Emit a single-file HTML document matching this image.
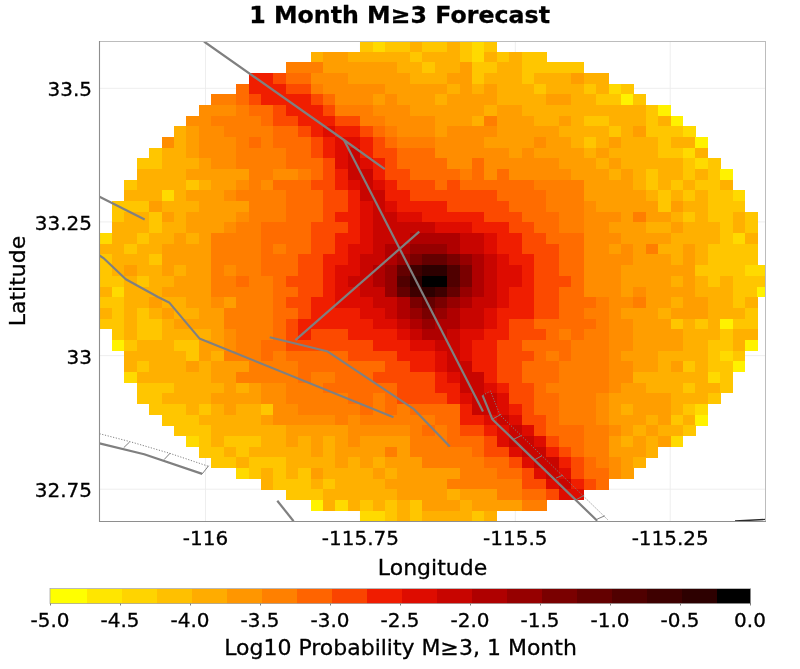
<!DOCTYPE html>
<html><head><meta charset="utf-8"><title>1 Month M≥3 Forecast</title>
<style>
html,body{margin:0;padding:0;background:#fff;}
body{width:800px;height:669px;overflow:hidden;}
svg{display:block;}
text{font-family:"DejaVu Sans","Liberation Sans",sans-serif;fill:#000;stroke:#000;stroke-width:0.3px;}
</style></head>
<body>
<svg width="800" height="669" viewBox="0 0 800 669">
<rect x="0" y="0" width="800" height="669" fill="#ffffff"/>
<text transform="translate(399.6,23) scale(1,0.99)" text-anchor="middle" font-size="23.7" font-weight="bold" stroke-width="0.1">1 Month M≥3 Forecast</text>
<g stroke="#ececec" stroke-width="0.9" fill="none">
<line x1="205.5" y1="41.5" x2="205.5" y2="521.5"/>
<line x1="360.4" y1="41.5" x2="360.4" y2="521.5"/>
<line x1="515.3" y1="41.5" x2="515.3" y2="521.5"/>
<line x1="670.2" y1="41.5" x2="670.2" y2="521.5"/>
<line x1="99.5" y1="88.3" x2="765.5" y2="88.3"/>
<line x1="99.5" y1="221.9" x2="765.5" y2="221.9"/>
<line x1="99.5" y1="355.6" x2="765.5" y2="355.6"/>
<line x1="99.5" y1="489.2" x2="765.5" y2="489.2"/>
</g>
<clipPath id="pc"><rect x="99.5" y="41.5" width="666.0" height="480.0"/></clipPath>
<g clip-path="url(#pc)">
<g shape-rendering="crispEdges">
<rect x="360.25" y="41.50" width="12.71" height="10.55" fill="#ffc600"/>
<rect x="372.66" y="41.50" width="12.71" height="10.55" fill="#ffda00"/>
<rect x="385.07" y="41.50" width="25.13" height="10.55" fill="#ffc600"/>
<rect x="409.90" y="41.50" width="12.71" height="10.55" fill="#ffb000"/>
<rect x="422.31" y="41.50" width="25.13" height="10.55" fill="#ffc600"/>
<rect x="447.14" y="41.50" width="12.71" height="10.55" fill="#ffb000"/>
<rect x="459.56" y="41.50" width="12.71" height="10.55" fill="#ffc600"/>
<rect x="471.97" y="41.50" width="12.71" height="10.55" fill="#ffda00"/>
<rect x="484.38" y="41.50" width="12.71" height="10.55" fill="#ffc600"/>
<rect x="310.59" y="51.75" width="12.71" height="10.97" fill="#ffb000"/>
<rect x="323.00" y="51.75" width="25.13" height="10.97" fill="#ff9e00"/>
<rect x="347.83" y="51.75" width="62.37" height="10.97" fill="#ffb000"/>
<rect x="409.90" y="51.75" width="12.71" height="10.97" fill="#ffc600"/>
<rect x="422.31" y="51.75" width="37.54" height="10.97" fill="#ffb000"/>
<rect x="459.56" y="51.75" width="12.71" height="10.97" fill="#ffc600"/>
<rect x="471.97" y="51.75" width="12.71" height="10.97" fill="#ffda00"/>
<rect x="484.38" y="51.75" width="12.71" height="10.97" fill="#ffb000"/>
<rect x="496.80" y="51.75" width="12.71" height="10.97" fill="#ffc600"/>
<rect x="509.21" y="51.75" width="12.71" height="10.97" fill="#ffb000"/>
<rect x="521.63" y="51.75" width="25.13" height="10.97" fill="#ffc600"/>
<rect x="285.76" y="62.42" width="37.54" height="10.97" fill="#ff7e00"/>
<rect x="323.00" y="62.42" width="74.78" height="10.97" fill="#ff9e00"/>
<rect x="397.49" y="62.42" width="25.13" height="10.97" fill="#ffb000"/>
<rect x="422.31" y="62.42" width="12.71" height="10.97" fill="#ffc600"/>
<rect x="434.73" y="62.42" width="25.13" height="10.97" fill="#ffb000"/>
<rect x="459.56" y="62.42" width="12.71" height="10.97" fill="#ff9e00"/>
<rect x="471.97" y="62.42" width="25.13" height="10.97" fill="#ffc600"/>
<rect x="496.80" y="62.42" width="25.13" height="10.97" fill="#ffb000"/>
<rect x="521.63" y="62.42" width="62.37" height="10.97" fill="#ffc600"/>
<rect x="248.52" y="73.09" width="25.13" height="10.97" fill="#f01e00"/>
<rect x="273.35" y="73.09" width="12.71" height="10.97" fill="#fc4a00"/>
<rect x="285.76" y="73.09" width="25.13" height="10.97" fill="#ff6c00"/>
<rect x="310.59" y="73.09" width="37.54" height="10.97" fill="#ff8d00"/>
<rect x="347.83" y="73.09" width="62.37" height="10.97" fill="#ff9e00"/>
<rect x="409.90" y="73.09" width="37.54" height="10.97" fill="#ffb000"/>
<rect x="447.14" y="73.09" width="25.13" height="10.97" fill="#ff9e00"/>
<rect x="471.97" y="73.09" width="12.71" height="10.97" fill="#ffc600"/>
<rect x="484.38" y="73.09" width="37.54" height="10.97" fill="#ffb000"/>
<rect x="521.63" y="73.09" width="12.71" height="10.97" fill="#ffc600"/>
<rect x="534.04" y="73.09" width="37.54" height="10.97" fill="#ffb000"/>
<rect x="571.28" y="73.09" width="12.71" height="10.97" fill="#ff9e00"/>
<rect x="583.70" y="73.09" width="25.13" height="10.97" fill="#ffb000"/>
<rect x="236.10" y="83.77" width="12.71" height="10.97" fill="#ff6c00"/>
<rect x="248.52" y="83.77" width="37.54" height="10.97" fill="#f01e00"/>
<rect x="285.76" y="83.77" width="25.13" height="10.97" fill="#fc4a00"/>
<rect x="310.59" y="83.77" width="12.71" height="10.97" fill="#ff7e00"/>
<rect x="323.00" y="83.77" width="62.37" height="10.97" fill="#ff8d00"/>
<rect x="385.07" y="83.77" width="62.37" height="10.97" fill="#ff9e00"/>
<rect x="447.14" y="83.77" width="12.71" height="10.97" fill="#ffb000"/>
<rect x="459.56" y="83.77" width="12.71" height="10.97" fill="#ff9e00"/>
<rect x="471.97" y="83.77" width="12.71" height="10.97" fill="#ffb000"/>
<rect x="484.38" y="83.77" width="12.71" height="10.97" fill="#ff9e00"/>
<rect x="496.80" y="83.77" width="37.54" height="10.97" fill="#ffb000"/>
<rect x="534.04" y="83.77" width="12.71" height="10.97" fill="#ffc600"/>
<rect x="546.45" y="83.77" width="37.54" height="10.97" fill="#ffb000"/>
<rect x="583.70" y="83.77" width="12.71" height="10.97" fill="#ffc600"/>
<rect x="596.11" y="83.77" width="12.71" height="10.97" fill="#ffb000"/>
<rect x="608.52" y="83.77" width="12.71" height="10.97" fill="#ffda00"/>
<rect x="620.94" y="83.77" width="12.71" height="10.97" fill="#ffc600"/>
<rect x="211.28" y="94.43" width="25.13" height="10.97" fill="#ff7e00"/>
<rect x="236.10" y="94.43" width="12.71" height="10.97" fill="#ff6c00"/>
<rect x="248.52" y="94.43" width="12.71" height="10.97" fill="#fc4a00"/>
<rect x="260.93" y="94.43" width="49.96" height="10.97" fill="#f01e00"/>
<rect x="310.59" y="94.43" width="12.71" height="10.97" fill="#fc4a00"/>
<rect x="323.00" y="94.43" width="12.71" height="10.97" fill="#ff6c00"/>
<rect x="335.42" y="94.43" width="37.54" height="10.97" fill="#ff8d00"/>
<rect x="372.66" y="94.43" width="12.71" height="10.97" fill="#ff9e00"/>
<rect x="385.07" y="94.43" width="12.71" height="10.97" fill="#ff8d00"/>
<rect x="397.49" y="94.43" width="37.54" height="10.97" fill="#ff9e00"/>
<rect x="434.73" y="94.43" width="12.71" height="10.97" fill="#ffb000"/>
<rect x="447.14" y="94.43" width="49.96" height="10.97" fill="#ff9e00"/>
<rect x="496.80" y="94.43" width="49.96" height="10.97" fill="#ffb000"/>
<rect x="546.45" y="94.43" width="25.13" height="10.97" fill="#ff9e00"/>
<rect x="571.28" y="94.43" width="25.13" height="10.97" fill="#ffb000"/>
<rect x="596.11" y="94.43" width="25.13" height="10.97" fill="#ffc600"/>
<rect x="620.94" y="94.43" width="12.71" height="10.97" fill="#fff200"/>
<rect x="633.35" y="94.43" width="12.71" height="10.97" fill="#ffc600"/>
<rect x="198.86" y="105.10" width="37.54" height="10.97" fill="#ff8d00"/>
<rect x="236.10" y="105.10" width="12.71" height="10.97" fill="#ff7e00"/>
<rect x="248.52" y="105.10" width="25.13" height="10.97" fill="#ff6c00"/>
<rect x="273.35" y="105.10" width="12.71" height="10.97" fill="#fc4a00"/>
<rect x="285.76" y="105.10" width="37.54" height="10.97" fill="#f01e00"/>
<rect x="323.00" y="105.10" width="12.71" height="10.97" fill="#fc4a00"/>
<rect x="335.42" y="105.10" width="37.54" height="10.97" fill="#ff7e00"/>
<rect x="372.66" y="105.10" width="37.54" height="10.97" fill="#ff8d00"/>
<rect x="409.90" y="105.10" width="74.78" height="10.97" fill="#ff9e00"/>
<rect x="484.38" y="105.10" width="12.71" height="10.97" fill="#ffb000"/>
<rect x="496.80" y="105.10" width="25.13" height="10.97" fill="#ff9e00"/>
<rect x="521.63" y="105.10" width="124.44" height="10.97" fill="#ffb000"/>
<rect x="645.77" y="105.10" width="12.71" height="10.97" fill="#ffc600"/>
<rect x="658.18" y="105.10" width="12.71" height="10.97" fill="#fff200"/>
<rect x="186.45" y="115.77" width="25.13" height="10.97" fill="#ff8d00"/>
<rect x="211.28" y="115.77" width="49.96" height="10.97" fill="#ff7e00"/>
<rect x="260.93" y="115.77" width="12.71" height="10.97" fill="#ff6c00"/>
<rect x="273.35" y="115.77" width="25.13" height="10.97" fill="#fc4a00"/>
<rect x="298.18" y="115.77" width="37.54" height="10.97" fill="#f01e00"/>
<rect x="335.42" y="115.77" width="25.13" height="10.97" fill="#fc4a00"/>
<rect x="360.25" y="115.77" width="25.13" height="10.97" fill="#ff7e00"/>
<rect x="385.07" y="115.77" width="49.96" height="10.97" fill="#ff8d00"/>
<rect x="434.73" y="115.77" width="37.54" height="10.97" fill="#ff9e00"/>
<rect x="471.97" y="115.77" width="12.71" height="10.97" fill="#ffb000"/>
<rect x="484.38" y="115.77" width="12.71" height="10.97" fill="#ff7e00"/>
<rect x="496.80" y="115.77" width="37.54" height="10.97" fill="#ff9e00"/>
<rect x="534.04" y="115.77" width="25.13" height="10.97" fill="#ffb000"/>
<rect x="558.87" y="115.77" width="12.71" height="10.97" fill="#ff9e00"/>
<rect x="571.28" y="115.77" width="12.71" height="10.97" fill="#ffb000"/>
<rect x="583.70" y="115.77" width="25.13" height="10.97" fill="#ffc600"/>
<rect x="608.52" y="115.77" width="37.54" height="10.97" fill="#ffb000"/>
<rect x="645.77" y="115.77" width="12.71" height="10.97" fill="#ffc600"/>
<rect x="658.18" y="115.77" width="12.71" height="10.97" fill="#ffb000"/>
<rect x="670.60" y="115.77" width="12.71" height="10.97" fill="#fff200"/>
<rect x="174.03" y="126.44" width="12.71" height="10.97" fill="#ffb000"/>
<rect x="186.45" y="126.44" width="12.71" height="10.97" fill="#ff9e00"/>
<rect x="198.86" y="126.44" width="25.13" height="10.97" fill="#ff8d00"/>
<rect x="223.69" y="126.44" width="49.96" height="10.97" fill="#ff7e00"/>
<rect x="273.35" y="126.44" width="25.13" height="10.97" fill="#ff6c00"/>
<rect x="298.18" y="126.44" width="12.71" height="10.97" fill="#fc4a00"/>
<rect x="310.59" y="126.44" width="12.71" height="10.97" fill="#f01e00"/>
<rect x="323.00" y="126.44" width="12.71" height="10.97" fill="#de0c00"/>
<rect x="335.42" y="126.44" width="25.13" height="10.97" fill="#f01e00"/>
<rect x="360.25" y="126.44" width="12.71" height="10.97" fill="#fc4a00"/>
<rect x="372.66" y="126.44" width="12.71" height="10.97" fill="#ff6c00"/>
<rect x="385.07" y="126.44" width="12.71" height="10.97" fill="#ff7e00"/>
<rect x="397.49" y="126.44" width="37.54" height="10.97" fill="#ff8d00"/>
<rect x="434.73" y="126.44" width="12.71" height="10.97" fill="#ff9e00"/>
<rect x="447.14" y="126.44" width="49.96" height="10.97" fill="#ff8d00"/>
<rect x="496.80" y="126.44" width="62.37" height="10.97" fill="#ff9e00"/>
<rect x="558.87" y="126.44" width="49.96" height="10.97" fill="#ffb000"/>
<rect x="608.52" y="126.44" width="12.71" height="10.97" fill="#ffc600"/>
<rect x="620.94" y="126.44" width="12.71" height="10.97" fill="#ffb000"/>
<rect x="633.35" y="126.44" width="12.71" height="10.97" fill="#ff9e00"/>
<rect x="645.77" y="126.44" width="37.54" height="10.97" fill="#ffc600"/>
<rect x="683.01" y="126.44" width="12.71" height="10.97" fill="#ffda00"/>
<rect x="161.62" y="137.12" width="12.71" height="10.97" fill="#ff8d00"/>
<rect x="174.03" y="137.12" width="12.71" height="10.97" fill="#ffb000"/>
<rect x="186.45" y="137.12" width="12.71" height="10.97" fill="#ff9e00"/>
<rect x="198.86" y="137.12" width="37.54" height="10.97" fill="#ff8d00"/>
<rect x="236.10" y="137.12" width="12.71" height="10.97" fill="#ff7e00"/>
<rect x="248.52" y="137.12" width="12.71" height="10.97" fill="#ff6c00"/>
<rect x="260.93" y="137.12" width="12.71" height="10.97" fill="#ff7e00"/>
<rect x="273.35" y="137.12" width="37.54" height="10.97" fill="#ff6c00"/>
<rect x="310.59" y="137.12" width="12.71" height="10.97" fill="#fc4a00"/>
<rect x="323.00" y="137.12" width="12.71" height="10.97" fill="#f01e00"/>
<rect x="335.42" y="137.12" width="25.13" height="10.97" fill="#de0c00"/>
<rect x="360.25" y="137.12" width="12.71" height="10.97" fill="#f01e00"/>
<rect x="372.66" y="137.12" width="12.71" height="10.97" fill="#fc4a00"/>
<rect x="385.07" y="137.12" width="12.71" height="10.97" fill="#ff6c00"/>
<rect x="397.49" y="137.12" width="37.54" height="10.97" fill="#ff7e00"/>
<rect x="434.73" y="137.12" width="49.96" height="10.97" fill="#ff8d00"/>
<rect x="484.38" y="137.12" width="49.96" height="10.97" fill="#ff9e00"/>
<rect x="534.04" y="137.12" width="12.71" height="10.97" fill="#ff8d00"/>
<rect x="546.45" y="137.12" width="25.13" height="10.97" fill="#ff9e00"/>
<rect x="571.28" y="137.12" width="12.71" height="10.97" fill="#ffb000"/>
<rect x="583.70" y="137.12" width="12.71" height="10.97" fill="#ffc600"/>
<rect x="596.11" y="137.12" width="12.71" height="10.97" fill="#ffb000"/>
<rect x="608.52" y="137.12" width="12.71" height="10.97" fill="#ff9e00"/>
<rect x="620.94" y="137.12" width="37.54" height="10.97" fill="#ffb000"/>
<rect x="658.18" y="137.12" width="12.71" height="10.97" fill="#ffc600"/>
<rect x="670.60" y="137.12" width="25.13" height="10.97" fill="#ffb000"/>
<rect x="695.42" y="137.12" width="12.71" height="10.97" fill="#fff200"/>
<rect x="149.21" y="147.78" width="12.71" height="10.97" fill="#ffc600"/>
<rect x="161.62" y="147.78" width="25.13" height="10.97" fill="#ffb000"/>
<rect x="186.45" y="147.78" width="12.71" height="10.97" fill="#ff9e00"/>
<rect x="198.86" y="147.78" width="37.54" height="10.97" fill="#ff8d00"/>
<rect x="236.10" y="147.78" width="49.96" height="10.97" fill="#ff7e00"/>
<rect x="285.76" y="147.78" width="25.13" height="10.97" fill="#ff6c00"/>
<rect x="310.59" y="147.78" width="12.71" height="10.97" fill="#fc4a00"/>
<rect x="323.00" y="147.78" width="12.71" height="10.97" fill="#f01e00"/>
<rect x="335.42" y="147.78" width="12.71" height="10.97" fill="#de0c00"/>
<rect x="347.83" y="147.78" width="12.71" height="10.97" fill="#c80500"/>
<rect x="360.25" y="147.78" width="12.71" height="10.97" fill="#f01e00"/>
<rect x="372.66" y="147.78" width="25.13" height="10.97" fill="#fc4a00"/>
<rect x="397.49" y="147.78" width="37.54" height="10.97" fill="#ff6c00"/>
<rect x="434.73" y="147.78" width="74.78" height="10.97" fill="#ff8d00"/>
<rect x="509.21" y="147.78" width="12.71" height="10.97" fill="#ff9e00"/>
<rect x="521.63" y="147.78" width="12.71" height="10.97" fill="#ff8d00"/>
<rect x="534.04" y="147.78" width="49.96" height="10.97" fill="#ff9e00"/>
<rect x="583.70" y="147.78" width="12.71" height="10.97" fill="#ffb000"/>
<rect x="596.11" y="147.78" width="12.71" height="10.97" fill="#ff9e00"/>
<rect x="608.52" y="147.78" width="49.96" height="10.97" fill="#ffb000"/>
<rect x="658.18" y="147.78" width="25.13" height="10.97" fill="#ffc600"/>
<rect x="683.01" y="147.78" width="12.71" height="10.97" fill="#ffda00"/>
<rect x="695.42" y="147.78" width="12.71" height="10.97" fill="#ffb000"/>
<rect x="136.79" y="158.45" width="25.13" height="10.97" fill="#ffc600"/>
<rect x="161.62" y="158.45" width="37.54" height="10.97" fill="#ffb000"/>
<rect x="198.86" y="158.45" width="12.71" height="10.97" fill="#ff9e00"/>
<rect x="211.28" y="158.45" width="25.13" height="10.97" fill="#ff8d00"/>
<rect x="236.10" y="158.45" width="49.96" height="10.97" fill="#ff7e00"/>
<rect x="285.76" y="158.45" width="37.54" height="10.97" fill="#ff6c00"/>
<rect x="323.00" y="158.45" width="12.71" height="10.97" fill="#fc4a00"/>
<rect x="335.42" y="158.45" width="12.71" height="10.97" fill="#de0c00"/>
<rect x="347.83" y="158.45" width="12.71" height="10.97" fill="#c80500"/>
<rect x="360.25" y="158.45" width="12.71" height="10.97" fill="#de0c00"/>
<rect x="372.66" y="158.45" width="12.71" height="10.97" fill="#f01e00"/>
<rect x="385.07" y="158.45" width="12.71" height="10.97" fill="#fc4a00"/>
<rect x="397.49" y="158.45" width="49.96" height="10.97" fill="#ff6c00"/>
<rect x="447.14" y="158.45" width="25.13" height="10.97" fill="#ff8d00"/>
<rect x="471.97" y="158.45" width="12.71" height="10.97" fill="#ff6c00"/>
<rect x="484.38" y="158.45" width="74.78" height="10.97" fill="#ff8d00"/>
<rect x="558.87" y="158.45" width="37.54" height="10.97" fill="#ff9e00"/>
<rect x="596.11" y="158.45" width="12.71" height="10.97" fill="#ffb000"/>
<rect x="608.52" y="158.45" width="12.71" height="10.97" fill="#ff9e00"/>
<rect x="620.94" y="158.45" width="62.37" height="10.97" fill="#ffb000"/>
<rect x="683.01" y="158.45" width="12.71" height="10.97" fill="#ffc600"/>
<rect x="695.42" y="158.45" width="12.71" height="10.97" fill="#ffda00"/>
<rect x="707.84" y="158.45" width="12.71" height="10.97" fill="#ffc600"/>
<rect x="136.79" y="169.12" width="49.96" height="10.97" fill="#ffb000"/>
<rect x="186.45" y="169.12" width="62.37" height="10.97" fill="#ff9e00"/>
<rect x="248.52" y="169.12" width="25.13" height="10.97" fill="#ff7e00"/>
<rect x="273.35" y="169.12" width="25.13" height="10.97" fill="#ff8d00"/>
<rect x="298.18" y="169.12" width="12.71" height="10.97" fill="#ff7e00"/>
<rect x="310.59" y="169.12" width="12.71" height="10.97" fill="#ff6c00"/>
<rect x="323.00" y="169.12" width="12.71" height="10.97" fill="#fc4a00"/>
<rect x="335.42" y="169.12" width="12.71" height="10.97" fill="#f01e00"/>
<rect x="347.83" y="169.12" width="25.13" height="10.97" fill="#c80500"/>
<rect x="372.66" y="169.12" width="12.71" height="10.97" fill="#f01e00"/>
<rect x="385.07" y="169.12" width="25.13" height="10.97" fill="#fc4a00"/>
<rect x="409.90" y="169.12" width="49.96" height="10.97" fill="#ff6c00"/>
<rect x="459.56" y="169.12" width="12.71" height="10.97" fill="#ff7e00"/>
<rect x="471.97" y="169.12" width="12.71" height="10.97" fill="#ff6c00"/>
<rect x="484.38" y="169.12" width="12.71" height="10.97" fill="#ff8d00"/>
<rect x="496.80" y="169.12" width="12.71" height="10.97" fill="#ff6c00"/>
<rect x="509.21" y="169.12" width="62.37" height="10.97" fill="#ff8d00"/>
<rect x="571.28" y="169.12" width="37.54" height="10.97" fill="#ff9e00"/>
<rect x="608.52" y="169.12" width="12.71" height="10.97" fill="#ffb000"/>
<rect x="620.94" y="169.12" width="12.71" height="10.97" fill="#ff9e00"/>
<rect x="633.35" y="169.12" width="12.71" height="10.97" fill="#ffb000"/>
<rect x="645.77" y="169.12" width="12.71" height="10.97" fill="#ffc600"/>
<rect x="658.18" y="169.12" width="25.13" height="10.97" fill="#ffb000"/>
<rect x="683.01" y="169.12" width="12.71" height="10.97" fill="#ffc600"/>
<rect x="695.42" y="169.12" width="12.71" height="10.97" fill="#ffb000"/>
<rect x="707.84" y="169.12" width="12.71" height="10.97" fill="#ffc600"/>
<rect x="720.25" y="169.12" width="12.71" height="10.97" fill="#fff200"/>
<rect x="124.38" y="179.79" width="12.71" height="10.97" fill="#ffc600"/>
<rect x="136.79" y="179.79" width="49.96" height="10.97" fill="#ffb000"/>
<rect x="186.45" y="179.79" width="12.71" height="10.97" fill="#ffc600"/>
<rect x="198.86" y="179.79" width="12.71" height="10.97" fill="#ffb000"/>
<rect x="211.28" y="179.79" width="25.13" height="10.97" fill="#ff9e00"/>
<rect x="236.10" y="179.79" width="12.71" height="10.97" fill="#ff8d00"/>
<rect x="248.52" y="179.79" width="12.71" height="10.97" fill="#ff7e00"/>
<rect x="260.93" y="179.79" width="12.71" height="10.97" fill="#ff8d00"/>
<rect x="273.35" y="179.79" width="37.54" height="10.97" fill="#ff6c00"/>
<rect x="310.59" y="179.79" width="25.13" height="10.97" fill="#fc4a00"/>
<rect x="335.42" y="179.79" width="12.71" height="10.97" fill="#f01e00"/>
<rect x="347.83" y="179.79" width="12.71" height="10.97" fill="#de0c00"/>
<rect x="360.25" y="179.79" width="12.71" height="10.97" fill="#c80500"/>
<rect x="372.66" y="179.79" width="12.71" height="10.97" fill="#de0c00"/>
<rect x="385.07" y="179.79" width="12.71" height="10.97" fill="#f01e00"/>
<rect x="397.49" y="179.79" width="37.54" height="10.97" fill="#fc4a00"/>
<rect x="434.73" y="179.79" width="12.71" height="10.97" fill="#ff6c00"/>
<rect x="447.14" y="179.79" width="12.71" height="10.97" fill="#fc4a00"/>
<rect x="459.56" y="179.79" width="74.78" height="10.97" fill="#ff6c00"/>
<rect x="534.04" y="179.79" width="49.96" height="10.97" fill="#ff7e00"/>
<rect x="583.70" y="179.79" width="49.96" height="10.97" fill="#ff9e00"/>
<rect x="633.35" y="179.79" width="12.71" height="10.97" fill="#ffb000"/>
<rect x="645.77" y="179.79" width="12.71" height="10.97" fill="#ffc600"/>
<rect x="658.18" y="179.79" width="12.71" height="10.97" fill="#ffb000"/>
<rect x="670.60" y="179.79" width="12.71" height="10.97" fill="#ffc600"/>
<rect x="683.01" y="179.79" width="12.71" height="10.97" fill="#ffb000"/>
<rect x="695.42" y="179.79" width="25.13" height="10.97" fill="#ffc600"/>
<rect x="720.25" y="179.79" width="12.71" height="10.97" fill="#ffb000"/>
<rect x="124.38" y="190.46" width="37.54" height="10.97" fill="#ffb000"/>
<rect x="161.62" y="190.46" width="12.71" height="10.97" fill="#ffda00"/>
<rect x="174.03" y="190.46" width="12.71" height="10.97" fill="#ffb000"/>
<rect x="186.45" y="190.46" width="37.54" height="10.97" fill="#ff9e00"/>
<rect x="223.69" y="190.46" width="12.71" height="10.97" fill="#ff8d00"/>
<rect x="236.10" y="190.46" width="49.96" height="10.97" fill="#ff7e00"/>
<rect x="285.76" y="190.46" width="37.54" height="10.97" fill="#ff6c00"/>
<rect x="323.00" y="190.46" width="25.13" height="10.97" fill="#fc4a00"/>
<rect x="347.83" y="190.46" width="12.71" height="10.97" fill="#f01e00"/>
<rect x="360.25" y="190.46" width="25.13" height="10.97" fill="#c80500"/>
<rect x="385.07" y="190.46" width="25.13" height="10.97" fill="#f01e00"/>
<rect x="409.90" y="190.46" width="87.20" height="10.97" fill="#fc4a00"/>
<rect x="496.80" y="190.46" width="49.96" height="10.97" fill="#ff6c00"/>
<rect x="546.45" y="190.46" width="37.54" height="10.97" fill="#ff7e00"/>
<rect x="583.70" y="190.46" width="62.37" height="10.97" fill="#ff9e00"/>
<rect x="645.77" y="190.46" width="12.71" height="10.97" fill="#ffb000"/>
<rect x="658.18" y="190.46" width="12.71" height="10.97" fill="#ffc600"/>
<rect x="670.60" y="190.46" width="12.71" height="10.97" fill="#ffb000"/>
<rect x="683.01" y="190.46" width="12.71" height="10.97" fill="#ffc600"/>
<rect x="695.42" y="190.46" width="12.71" height="10.97" fill="#ffb000"/>
<rect x="707.84" y="190.46" width="25.13" height="10.97" fill="#ffc600"/>
<rect x="732.66" y="190.46" width="12.71" height="10.97" fill="#ffda00"/>
<rect x="111.96" y="201.13" width="37.54" height="10.97" fill="#ffc600"/>
<rect x="149.21" y="201.13" width="12.71" height="10.97" fill="#ff9e00"/>
<rect x="161.62" y="201.13" width="37.54" height="10.97" fill="#ffb000"/>
<rect x="198.86" y="201.13" width="49.96" height="10.97" fill="#ff9e00"/>
<rect x="248.52" y="201.13" width="37.54" height="10.97" fill="#ff7e00"/>
<rect x="285.76" y="201.13" width="37.54" height="10.97" fill="#ff6c00"/>
<rect x="323.00" y="201.13" width="25.13" height="10.97" fill="#fc4a00"/>
<rect x="347.83" y="201.13" width="12.71" height="10.97" fill="#f01e00"/>
<rect x="360.25" y="201.13" width="12.71" height="10.97" fill="#de0c00"/>
<rect x="372.66" y="201.13" width="12.71" height="10.97" fill="#c80500"/>
<rect x="385.07" y="201.13" width="12.71" height="10.97" fill="#de0c00"/>
<rect x="397.49" y="201.13" width="49.96" height="10.97" fill="#f01e00"/>
<rect x="447.14" y="201.13" width="62.37" height="10.97" fill="#fc4a00"/>
<rect x="509.21" y="201.13" width="37.54" height="10.97" fill="#ff6c00"/>
<rect x="546.45" y="201.13" width="37.54" height="10.97" fill="#ff7e00"/>
<rect x="583.70" y="201.13" width="12.71" height="10.97" fill="#ff8d00"/>
<rect x="596.11" y="201.13" width="62.37" height="10.97" fill="#ff9e00"/>
<rect x="658.18" y="201.13" width="12.71" height="10.97" fill="#ffc600"/>
<rect x="670.60" y="201.13" width="12.71" height="10.97" fill="#ff9e00"/>
<rect x="683.01" y="201.13" width="25.13" height="10.97" fill="#ffb000"/>
<rect x="707.84" y="201.13" width="37.54" height="10.97" fill="#ffc600"/>
<rect x="111.96" y="211.81" width="12.71" height="10.97" fill="#ffc600"/>
<rect x="124.38" y="211.81" width="25.13" height="10.97" fill="#ffb000"/>
<rect x="149.21" y="211.81" width="12.71" height="10.97" fill="#ffc600"/>
<rect x="161.62" y="211.81" width="12.71" height="10.97" fill="#ff9e00"/>
<rect x="174.03" y="211.81" width="12.71" height="10.97" fill="#ffb000"/>
<rect x="186.45" y="211.81" width="49.96" height="10.97" fill="#ff9e00"/>
<rect x="236.10" y="211.81" width="12.71" height="10.97" fill="#ff8d00"/>
<rect x="248.52" y="211.81" width="37.54" height="10.97" fill="#ff7e00"/>
<rect x="285.76" y="211.81" width="37.54" height="10.97" fill="#ff6c00"/>
<rect x="323.00" y="211.81" width="12.71" height="10.97" fill="#fc4a00"/>
<rect x="335.42" y="211.81" width="25.13" height="10.97" fill="#f01e00"/>
<rect x="360.25" y="211.81" width="12.71" height="10.97" fill="#de0c00"/>
<rect x="372.66" y="211.81" width="25.13" height="10.97" fill="#c80500"/>
<rect x="397.49" y="211.81" width="25.13" height="10.97" fill="#de0c00"/>
<rect x="422.31" y="211.81" width="62.37" height="10.97" fill="#f01e00"/>
<rect x="484.38" y="211.81" width="37.54" height="10.97" fill="#fc4a00"/>
<rect x="521.63" y="211.81" width="37.54" height="10.97" fill="#ff6c00"/>
<rect x="558.87" y="211.81" width="25.13" height="10.97" fill="#ff7e00"/>
<rect x="583.70" y="211.81" width="37.54" height="10.97" fill="#ff8d00"/>
<rect x="620.94" y="211.81" width="12.71" height="10.97" fill="#ff9e00"/>
<rect x="633.35" y="211.81" width="12.71" height="10.97" fill="#ff7e00"/>
<rect x="645.77" y="211.81" width="25.13" height="10.97" fill="#ff9e00"/>
<rect x="670.60" y="211.81" width="12.71" height="10.97" fill="#ffb000"/>
<rect x="683.01" y="211.81" width="12.71" height="10.97" fill="#ffc600"/>
<rect x="695.42" y="211.81" width="12.71" height="10.97" fill="#ffb000"/>
<rect x="707.84" y="211.81" width="25.13" height="10.97" fill="#ffc600"/>
<rect x="732.66" y="211.81" width="12.71" height="10.97" fill="#ffb000"/>
<rect x="745.08" y="211.81" width="12.71" height="10.97" fill="#ffc600"/>
<rect x="111.96" y="222.47" width="37.54" height="10.97" fill="#ffb000"/>
<rect x="149.21" y="222.47" width="12.71" height="10.97" fill="#ffc600"/>
<rect x="161.62" y="222.47" width="25.13" height="10.97" fill="#ffb000"/>
<rect x="186.45" y="222.47" width="37.54" height="10.97" fill="#ff9e00"/>
<rect x="223.69" y="222.47" width="12.71" height="10.97" fill="#ff8d00"/>
<rect x="236.10" y="222.47" width="25.13" height="10.97" fill="#ff7e00"/>
<rect x="260.93" y="222.47" width="49.96" height="10.97" fill="#ff6c00"/>
<rect x="310.59" y="222.47" width="37.54" height="10.97" fill="#fc4a00"/>
<rect x="347.83" y="222.47" width="12.71" height="10.97" fill="#f01e00"/>
<rect x="360.25" y="222.47" width="12.71" height="10.97" fill="#de0c00"/>
<rect x="372.66" y="222.47" width="62.37" height="10.97" fill="#c80500"/>
<rect x="434.73" y="222.47" width="37.54" height="10.97" fill="#de0c00"/>
<rect x="471.97" y="222.47" width="37.54" height="10.97" fill="#f01e00"/>
<rect x="509.21" y="222.47" width="25.13" height="10.97" fill="#fc4a00"/>
<rect x="534.04" y="222.47" width="25.13" height="10.97" fill="#ff6c00"/>
<rect x="558.87" y="222.47" width="25.13" height="10.97" fill="#ff7e00"/>
<rect x="583.70" y="222.47" width="25.13" height="10.97" fill="#ff8d00"/>
<rect x="608.52" y="222.47" width="37.54" height="10.97" fill="#ff9e00"/>
<rect x="645.77" y="222.47" width="25.13" height="10.97" fill="#ffb000"/>
<rect x="670.60" y="222.47" width="12.71" height="10.97" fill="#ff9e00"/>
<rect x="683.01" y="222.47" width="37.54" height="10.97" fill="#ffb000"/>
<rect x="720.25" y="222.47" width="12.71" height="10.97" fill="#ffc600"/>
<rect x="732.66" y="222.47" width="12.71" height="10.97" fill="#ffb000"/>
<rect x="745.08" y="222.47" width="12.71" height="10.97" fill="#ffc600"/>
<rect x="99.55" y="233.14" width="12.71" height="10.97" fill="#ffda00"/>
<rect x="111.96" y="233.14" width="25.13" height="10.97" fill="#ffb000"/>
<rect x="136.79" y="233.14" width="12.71" height="10.97" fill="#ffc600"/>
<rect x="149.21" y="233.14" width="25.13" height="10.97" fill="#ffb000"/>
<rect x="174.03" y="233.14" width="12.71" height="10.97" fill="#ff9e00"/>
<rect x="186.45" y="233.14" width="12.71" height="10.97" fill="#ffb000"/>
<rect x="198.86" y="233.14" width="12.71" height="10.97" fill="#ff9e00"/>
<rect x="211.28" y="233.14" width="49.96" height="10.97" fill="#ff7e00"/>
<rect x="260.93" y="233.14" width="49.96" height="10.97" fill="#ff6c00"/>
<rect x="310.59" y="233.14" width="25.13" height="10.97" fill="#fc4a00"/>
<rect x="335.42" y="233.14" width="25.13" height="10.97" fill="#f01e00"/>
<rect x="360.25" y="233.14" width="12.71" height="10.97" fill="#de0c00"/>
<rect x="372.66" y="233.14" width="37.54" height="10.97" fill="#c80500"/>
<rect x="409.90" y="233.14" width="49.96" height="10.97" fill="#af0000"/>
<rect x="459.56" y="233.14" width="25.13" height="10.97" fill="#c80500"/>
<rect x="484.38" y="233.14" width="12.71" height="10.97" fill="#de0c00"/>
<rect x="496.80" y="233.14" width="25.13" height="10.97" fill="#f01e00"/>
<rect x="521.63" y="233.14" width="25.13" height="10.97" fill="#fc4a00"/>
<rect x="546.45" y="233.14" width="37.54" height="10.97" fill="#ff6c00"/>
<rect x="583.70" y="233.14" width="37.54" height="10.97" fill="#ff8d00"/>
<rect x="620.94" y="233.14" width="49.96" height="10.97" fill="#ff9e00"/>
<rect x="670.60" y="233.14" width="49.96" height="10.97" fill="#ffb000"/>
<rect x="720.25" y="233.14" width="12.71" height="10.97" fill="#ffc600"/>
<rect x="732.66" y="233.14" width="12.71" height="10.97" fill="#ffda00"/>
<rect x="745.08" y="233.14" width="12.71" height="10.97" fill="#ffb000"/>
<rect x="99.55" y="243.81" width="25.13" height="10.97" fill="#ffb000"/>
<rect x="124.38" y="243.81" width="12.71" height="10.97" fill="#ffc600"/>
<rect x="136.79" y="243.81" width="25.13" height="10.97" fill="#ffb000"/>
<rect x="161.62" y="243.81" width="49.96" height="10.97" fill="#ff9e00"/>
<rect x="211.28" y="243.81" width="49.96" height="10.97" fill="#ff7e00"/>
<rect x="260.93" y="243.81" width="12.71" height="10.97" fill="#ff6c00"/>
<rect x="273.35" y="243.81" width="12.71" height="10.97" fill="#ff7e00"/>
<rect x="285.76" y="243.81" width="25.13" height="10.97" fill="#ff6c00"/>
<rect x="310.59" y="243.81" width="25.13" height="10.97" fill="#fc4a00"/>
<rect x="335.42" y="243.81" width="12.71" height="10.97" fill="#f01e00"/>
<rect x="347.83" y="243.81" width="25.13" height="10.97" fill="#de0c00"/>
<rect x="372.66" y="243.81" width="12.71" height="10.97" fill="#c80500"/>
<rect x="385.07" y="243.81" width="25.13" height="10.97" fill="#af0000"/>
<rect x="409.90" y="243.81" width="37.54" height="10.97" fill="#960000"/>
<rect x="447.14" y="243.81" width="12.71" height="10.97" fill="#af0000"/>
<rect x="459.56" y="243.81" width="25.13" height="10.97" fill="#c80500"/>
<rect x="484.38" y="243.81" width="12.71" height="10.97" fill="#de0c00"/>
<rect x="496.80" y="243.81" width="25.13" height="10.97" fill="#f01e00"/>
<rect x="521.63" y="243.81" width="37.54" height="10.97" fill="#fc4a00"/>
<rect x="558.87" y="243.81" width="25.13" height="10.97" fill="#ff6c00"/>
<rect x="583.70" y="243.81" width="25.13" height="10.97" fill="#ff8d00"/>
<rect x="608.52" y="243.81" width="12.71" height="10.97" fill="#ff9e00"/>
<rect x="620.94" y="243.81" width="12.71" height="10.97" fill="#ff8d00"/>
<rect x="633.35" y="243.81" width="12.71" height="10.97" fill="#ff9e00"/>
<rect x="645.77" y="243.81" width="12.71" height="10.97" fill="#ff7e00"/>
<rect x="658.18" y="243.81" width="25.13" height="10.97" fill="#ffb000"/>
<rect x="683.01" y="243.81" width="12.71" height="10.97" fill="#ff9e00"/>
<rect x="695.42" y="243.81" width="12.71" height="10.97" fill="#ffb000"/>
<rect x="707.84" y="243.81" width="49.96" height="10.97" fill="#ffc600"/>
<rect x="99.55" y="254.48" width="12.71" height="10.97" fill="#ffc600"/>
<rect x="111.96" y="254.48" width="37.54" height="10.97" fill="#ffb000"/>
<rect x="149.21" y="254.48" width="12.71" height="10.97" fill="#ffc600"/>
<rect x="161.62" y="254.48" width="49.96" height="10.97" fill="#ff9e00"/>
<rect x="211.28" y="254.48" width="49.96" height="10.97" fill="#ff7e00"/>
<rect x="260.93" y="254.48" width="37.54" height="10.97" fill="#ff6c00"/>
<rect x="298.18" y="254.48" width="25.13" height="10.97" fill="#fc4a00"/>
<rect x="323.00" y="254.48" width="25.13" height="10.97" fill="#f01e00"/>
<rect x="347.83" y="254.48" width="12.71" height="10.97" fill="#de0c00"/>
<rect x="360.25" y="254.48" width="25.13" height="10.97" fill="#c80500"/>
<rect x="385.07" y="254.48" width="12.71" height="10.97" fill="#af0000"/>
<rect x="397.49" y="254.48" width="12.71" height="10.97" fill="#960000"/>
<rect x="409.90" y="254.48" width="12.71" height="10.97" fill="#7a0000"/>
<rect x="422.31" y="254.48" width="25.13" height="10.97" fill="#640000"/>
<rect x="447.14" y="254.48" width="12.71" height="10.97" fill="#7a0000"/>
<rect x="459.56" y="254.48" width="12.71" height="10.97" fill="#960000"/>
<rect x="471.97" y="254.48" width="12.71" height="10.97" fill="#af0000"/>
<rect x="484.38" y="254.48" width="12.71" height="10.97" fill="#c80500"/>
<rect x="496.80" y="254.48" width="12.71" height="10.97" fill="#de0c00"/>
<rect x="509.21" y="254.48" width="25.13" height="10.97" fill="#f01e00"/>
<rect x="534.04" y="254.48" width="25.13" height="10.97" fill="#fc4a00"/>
<rect x="558.87" y="254.48" width="25.13" height="10.97" fill="#ff6c00"/>
<rect x="583.70" y="254.48" width="49.96" height="10.97" fill="#ff8d00"/>
<rect x="633.35" y="254.48" width="37.54" height="10.97" fill="#ff9e00"/>
<rect x="670.60" y="254.48" width="12.71" height="10.97" fill="#ffb000"/>
<rect x="683.01" y="254.48" width="12.71" height="10.97" fill="#ff9e00"/>
<rect x="695.42" y="254.48" width="12.71" height="10.97" fill="#ffb000"/>
<rect x="707.84" y="254.48" width="49.96" height="10.97" fill="#ffc600"/>
<rect x="99.55" y="265.15" width="12.71" height="10.97" fill="#ffc600"/>
<rect x="111.96" y="265.15" width="12.71" height="10.97" fill="#ffb000"/>
<rect x="124.38" y="265.15" width="12.71" height="10.97" fill="#ff9e00"/>
<rect x="136.79" y="265.15" width="25.13" height="10.97" fill="#ffb000"/>
<rect x="161.62" y="265.15" width="12.71" height="10.97" fill="#ff9e00"/>
<rect x="174.03" y="265.15" width="12.71" height="10.97" fill="#ffb000"/>
<rect x="186.45" y="265.15" width="25.13" height="10.97" fill="#ff9e00"/>
<rect x="211.28" y="265.15" width="12.71" height="10.97" fill="#ff7e00"/>
<rect x="223.69" y="265.15" width="12.71" height="10.97" fill="#ff8d00"/>
<rect x="236.10" y="265.15" width="25.13" height="10.97" fill="#ff7e00"/>
<rect x="260.93" y="265.15" width="37.54" height="10.97" fill="#ff6c00"/>
<rect x="298.18" y="265.15" width="25.13" height="10.97" fill="#fc4a00"/>
<rect x="323.00" y="265.15" width="12.71" height="10.97" fill="#f01e00"/>
<rect x="335.42" y="265.15" width="25.13" height="10.97" fill="#de0c00"/>
<rect x="360.25" y="265.15" width="12.71" height="10.97" fill="#c80500"/>
<rect x="372.66" y="265.15" width="12.71" height="10.97" fill="#af0000"/>
<rect x="385.07" y="265.15" width="12.71" height="10.97" fill="#960000"/>
<rect x="397.49" y="265.15" width="12.71" height="10.97" fill="#640000"/>
<rect x="409.90" y="265.15" width="12.71" height="10.97" fill="#3e0000"/>
<rect x="422.31" y="265.15" width="25.13" height="10.97" fill="#2d0000"/>
<rect x="447.14" y="265.15" width="12.71" height="10.97" fill="#500000"/>
<rect x="459.56" y="265.15" width="12.71" height="10.97" fill="#7a0000"/>
<rect x="471.97" y="265.15" width="12.71" height="10.97" fill="#af0000"/>
<rect x="484.38" y="265.15" width="12.71" height="10.97" fill="#c80500"/>
<rect x="496.80" y="265.15" width="25.13" height="10.97" fill="#de0c00"/>
<rect x="521.63" y="265.15" width="12.71" height="10.97" fill="#f01e00"/>
<rect x="534.04" y="265.15" width="25.13" height="10.97" fill="#fc4a00"/>
<rect x="558.87" y="265.15" width="25.13" height="10.97" fill="#ff6c00"/>
<rect x="583.70" y="265.15" width="37.54" height="10.97" fill="#ff8d00"/>
<rect x="620.94" y="265.15" width="74.78" height="10.97" fill="#ff9e00"/>
<rect x="695.42" y="265.15" width="49.96" height="10.97" fill="#ffc600"/>
<rect x="745.08" y="265.15" width="20.72" height="10.97" fill="#ffda00"/>
<rect x="99.55" y="275.82" width="25.13" height="10.97" fill="#ffc600"/>
<rect x="124.38" y="275.82" width="12.71" height="10.97" fill="#ffb000"/>
<rect x="136.79" y="275.82" width="12.71" height="10.97" fill="#ffc600"/>
<rect x="149.21" y="275.82" width="25.13" height="10.97" fill="#ffb000"/>
<rect x="174.03" y="275.82" width="37.54" height="10.97" fill="#ff9e00"/>
<rect x="211.28" y="275.82" width="25.13" height="10.97" fill="#ff7e00"/>
<rect x="236.10" y="275.82" width="12.71" height="10.97" fill="#ff6c00"/>
<rect x="248.52" y="275.82" width="25.13" height="10.97" fill="#ff7e00"/>
<rect x="273.35" y="275.82" width="12.71" height="10.97" fill="#ff6c00"/>
<rect x="285.76" y="275.82" width="37.54" height="10.97" fill="#fc4a00"/>
<rect x="323.00" y="275.82" width="12.71" height="10.97" fill="#f01e00"/>
<rect x="335.42" y="275.82" width="12.71" height="10.97" fill="#de0c00"/>
<rect x="347.83" y="275.82" width="25.13" height="10.97" fill="#c80500"/>
<rect x="372.66" y="275.82" width="12.71" height="10.97" fill="#af0000"/>
<rect x="385.07" y="275.82" width="12.71" height="10.97" fill="#960000"/>
<rect x="397.49" y="275.82" width="12.71" height="10.97" fill="#500000"/>
<rect x="409.90" y="275.82" width="12.71" height="10.97" fill="#2d0000"/>
<rect x="422.31" y="275.82" width="25.13" height="10.97" fill="#000000"/>
<rect x="447.14" y="275.82" width="12.71" height="10.97" fill="#500000"/>
<rect x="459.56" y="275.82" width="12.71" height="10.97" fill="#7a0000"/>
<rect x="471.97" y="275.82" width="12.71" height="10.97" fill="#af0000"/>
<rect x="484.38" y="275.82" width="12.71" height="10.97" fill="#c80500"/>
<rect x="496.80" y="275.82" width="25.13" height="10.97" fill="#de0c00"/>
<rect x="521.63" y="275.82" width="12.71" height="10.97" fill="#f01e00"/>
<rect x="534.04" y="275.82" width="37.54" height="10.97" fill="#fc4a00"/>
<rect x="571.28" y="275.82" width="12.71" height="10.97" fill="#ff6c00"/>
<rect x="583.70" y="275.82" width="37.54" height="10.97" fill="#ff8d00"/>
<rect x="620.94" y="275.82" width="49.96" height="10.97" fill="#ff9e00"/>
<rect x="670.60" y="275.82" width="12.71" height="10.97" fill="#ffb000"/>
<rect x="683.01" y="275.82" width="12.71" height="10.97" fill="#ff9e00"/>
<rect x="695.42" y="275.82" width="12.71" height="10.97" fill="#ffb000"/>
<rect x="707.84" y="275.82" width="12.71" height="10.97" fill="#ffc600"/>
<rect x="720.25" y="275.82" width="12.71" height="10.97" fill="#ffb000"/>
<rect x="732.66" y="275.82" width="33.14" height="10.97" fill="#ffc600"/>
<rect x="99.55" y="286.50" width="12.71" height="10.97" fill="#ffb000"/>
<rect x="111.96" y="286.50" width="12.71" height="10.97" fill="#ffda00"/>
<rect x="124.38" y="286.50" width="37.54" height="10.97" fill="#ffb000"/>
<rect x="161.62" y="286.50" width="49.96" height="10.97" fill="#ff9e00"/>
<rect x="211.28" y="286.50" width="62.37" height="10.97" fill="#ff7e00"/>
<rect x="273.35" y="286.50" width="25.13" height="10.97" fill="#ff6c00"/>
<rect x="298.18" y="286.50" width="25.13" height="10.97" fill="#fc4a00"/>
<rect x="323.00" y="286.50" width="12.71" height="10.97" fill="#f01e00"/>
<rect x="335.42" y="286.50" width="25.13" height="10.97" fill="#de0c00"/>
<rect x="360.25" y="286.50" width="25.13" height="10.97" fill="#c80500"/>
<rect x="385.07" y="286.50" width="12.71" height="10.97" fill="#960000"/>
<rect x="397.49" y="286.50" width="12.71" height="10.97" fill="#640000"/>
<rect x="409.90" y="286.50" width="12.71" height="10.97" fill="#3e0000"/>
<rect x="422.31" y="286.50" width="12.71" height="10.97" fill="#2d0000"/>
<rect x="434.73" y="286.50" width="12.71" height="10.97" fill="#3e0000"/>
<rect x="447.14" y="286.50" width="12.71" height="10.97" fill="#640000"/>
<rect x="459.56" y="286.50" width="12.71" height="10.97" fill="#960000"/>
<rect x="471.97" y="286.50" width="12.71" height="10.97" fill="#af0000"/>
<rect x="484.38" y="286.50" width="12.71" height="10.97" fill="#c80500"/>
<rect x="496.80" y="286.50" width="12.71" height="10.97" fill="#de0c00"/>
<rect x="509.21" y="286.50" width="25.13" height="10.97" fill="#f01e00"/>
<rect x="534.04" y="286.50" width="25.13" height="10.97" fill="#fc4a00"/>
<rect x="558.87" y="286.50" width="25.13" height="10.97" fill="#ff6c00"/>
<rect x="583.70" y="286.50" width="37.54" height="10.97" fill="#ff8d00"/>
<rect x="620.94" y="286.50" width="12.71" height="10.97" fill="#ff9e00"/>
<rect x="633.35" y="286.50" width="12.71" height="10.97" fill="#ff8d00"/>
<rect x="645.77" y="286.50" width="49.96" height="10.97" fill="#ff9e00"/>
<rect x="695.42" y="286.50" width="37.54" height="10.97" fill="#ffb000"/>
<rect x="732.66" y="286.50" width="25.13" height="10.97" fill="#ffc600"/>
<rect x="757.49" y="286.50" width="8.31" height="10.97" fill="#fff200"/>
<rect x="99.55" y="297.16" width="25.13" height="10.97" fill="#ffc600"/>
<rect x="124.38" y="297.16" width="25.13" height="10.97" fill="#ffb000"/>
<rect x="149.21" y="297.16" width="12.71" height="10.97" fill="#ff9e00"/>
<rect x="161.62" y="297.16" width="25.13" height="10.97" fill="#ffb000"/>
<rect x="186.45" y="297.16" width="25.13" height="10.97" fill="#ff9e00"/>
<rect x="211.28" y="297.16" width="12.71" height="10.97" fill="#ff8d00"/>
<rect x="223.69" y="297.16" width="12.71" height="10.97" fill="#ff9e00"/>
<rect x="236.10" y="297.16" width="37.54" height="10.97" fill="#ff7e00"/>
<rect x="273.35" y="297.16" width="12.71" height="10.97" fill="#ff6c00"/>
<rect x="285.76" y="297.16" width="25.13" height="10.97" fill="#fc4a00"/>
<rect x="310.59" y="297.16" width="25.13" height="10.97" fill="#f01e00"/>
<rect x="335.42" y="297.16" width="37.54" height="10.97" fill="#de0c00"/>
<rect x="372.66" y="297.16" width="25.13" height="10.97" fill="#c80500"/>
<rect x="397.49" y="297.16" width="12.71" height="10.97" fill="#af0000"/>
<rect x="409.90" y="297.16" width="12.71" height="10.97" fill="#7a0000"/>
<rect x="422.31" y="297.16" width="12.71" height="10.97" fill="#640000"/>
<rect x="434.73" y="297.16" width="12.71" height="10.97" fill="#7a0000"/>
<rect x="447.14" y="297.16" width="12.71" height="10.97" fill="#960000"/>
<rect x="459.56" y="297.16" width="12.71" height="10.97" fill="#af0000"/>
<rect x="471.97" y="297.16" width="25.13" height="10.97" fill="#c80500"/>
<rect x="496.80" y="297.16" width="12.71" height="10.97" fill="#de0c00"/>
<rect x="509.21" y="297.16" width="25.13" height="10.97" fill="#f01e00"/>
<rect x="534.04" y="297.16" width="25.13" height="10.97" fill="#fc4a00"/>
<rect x="558.87" y="297.16" width="37.54" height="10.97" fill="#ff6c00"/>
<rect x="596.11" y="297.16" width="12.71" height="10.97" fill="#ff7e00"/>
<rect x="608.52" y="297.16" width="25.13" height="10.97" fill="#ff8d00"/>
<rect x="633.35" y="297.16" width="12.71" height="10.97" fill="#ff7e00"/>
<rect x="645.77" y="297.16" width="25.13" height="10.97" fill="#ff9e00"/>
<rect x="670.60" y="297.16" width="12.71" height="10.97" fill="#ffb000"/>
<rect x="683.01" y="297.16" width="25.13" height="10.97" fill="#ff9e00"/>
<rect x="707.84" y="297.16" width="25.13" height="10.97" fill="#ffb000"/>
<rect x="732.66" y="297.16" width="12.71" height="10.97" fill="#ffc600"/>
<rect x="745.08" y="297.16" width="12.71" height="10.97" fill="#ffb000"/>
<rect x="99.55" y="307.83" width="12.71" height="10.97" fill="#ffb000"/>
<rect x="111.96" y="307.83" width="12.71" height="10.97" fill="#ffc600"/>
<rect x="124.38" y="307.83" width="12.71" height="10.97" fill="#ffb000"/>
<rect x="136.79" y="307.83" width="12.71" height="10.97" fill="#ffc600"/>
<rect x="149.21" y="307.83" width="12.71" height="10.97" fill="#ffb000"/>
<rect x="161.62" y="307.83" width="12.71" height="10.97" fill="#ff9e00"/>
<rect x="174.03" y="307.83" width="25.13" height="10.97" fill="#ffb000"/>
<rect x="198.86" y="307.83" width="25.13" height="10.97" fill="#ff9e00"/>
<rect x="223.69" y="307.83" width="49.96" height="10.97" fill="#ff7e00"/>
<rect x="273.35" y="307.83" width="25.13" height="10.97" fill="#ff6c00"/>
<rect x="298.18" y="307.83" width="12.71" height="10.97" fill="#fc4a00"/>
<rect x="310.59" y="307.83" width="49.96" height="10.97" fill="#f01e00"/>
<rect x="360.25" y="307.83" width="25.13" height="10.97" fill="#de0c00"/>
<rect x="385.07" y="307.83" width="12.71" height="10.97" fill="#c80500"/>
<rect x="397.49" y="307.83" width="12.71" height="10.97" fill="#af0000"/>
<rect x="409.90" y="307.83" width="12.71" height="10.97" fill="#960000"/>
<rect x="422.31" y="307.83" width="12.71" height="10.97" fill="#7a0000"/>
<rect x="434.73" y="307.83" width="12.71" height="10.97" fill="#960000"/>
<rect x="447.14" y="307.83" width="12.71" height="10.97" fill="#af0000"/>
<rect x="459.56" y="307.83" width="25.13" height="10.97" fill="#c80500"/>
<rect x="484.38" y="307.83" width="12.71" height="10.97" fill="#de0c00"/>
<rect x="496.80" y="307.83" width="37.54" height="10.97" fill="#f01e00"/>
<rect x="534.04" y="307.83" width="25.13" height="10.97" fill="#fc4a00"/>
<rect x="558.87" y="307.83" width="25.13" height="10.97" fill="#ff6c00"/>
<rect x="583.70" y="307.83" width="25.13" height="10.97" fill="#ff7e00"/>
<rect x="608.52" y="307.83" width="12.71" height="10.97" fill="#ff8d00"/>
<rect x="620.94" y="307.83" width="37.54" height="10.97" fill="#ff9e00"/>
<rect x="658.18" y="307.83" width="12.71" height="10.97" fill="#ffb000"/>
<rect x="670.60" y="307.83" width="37.54" height="10.97" fill="#ff9e00"/>
<rect x="707.84" y="307.83" width="37.54" height="10.97" fill="#ffb000"/>
<rect x="745.08" y="307.83" width="12.71" height="10.97" fill="#ffc600"/>
<rect x="99.55" y="318.50" width="25.13" height="10.97" fill="#ffc600"/>
<rect x="124.38" y="318.50" width="12.71" height="10.97" fill="#ffb000"/>
<rect x="136.79" y="318.50" width="25.13" height="10.97" fill="#ffc600"/>
<rect x="161.62" y="318.50" width="12.71" height="10.97" fill="#ffb000"/>
<rect x="174.03" y="318.50" width="49.96" height="10.97" fill="#ff9e00"/>
<rect x="223.69" y="318.50" width="49.96" height="10.97" fill="#ff7e00"/>
<rect x="273.35" y="318.50" width="12.71" height="10.97" fill="#ff6c00"/>
<rect x="285.76" y="318.50" width="12.71" height="10.97" fill="#fc4a00"/>
<rect x="298.18" y="318.50" width="74.78" height="10.97" fill="#f01e00"/>
<rect x="372.66" y="318.50" width="25.13" height="10.97" fill="#de0c00"/>
<rect x="397.49" y="318.50" width="12.71" height="10.97" fill="#c80500"/>
<rect x="409.90" y="318.50" width="12.71" height="10.97" fill="#af0000"/>
<rect x="422.31" y="318.50" width="12.71" height="10.97" fill="#960000"/>
<rect x="434.73" y="318.50" width="25.13" height="10.97" fill="#af0000"/>
<rect x="459.56" y="318.50" width="25.13" height="10.97" fill="#c80500"/>
<rect x="484.38" y="318.50" width="12.71" height="10.97" fill="#de0c00"/>
<rect x="496.80" y="318.50" width="12.71" height="10.97" fill="#f01e00"/>
<rect x="509.21" y="318.50" width="25.13" height="10.97" fill="#fc4a00"/>
<rect x="534.04" y="318.50" width="62.37" height="10.97" fill="#ff6c00"/>
<rect x="596.11" y="318.50" width="12.71" height="10.97" fill="#ff7e00"/>
<rect x="608.52" y="318.50" width="25.13" height="10.97" fill="#ff8d00"/>
<rect x="633.35" y="318.50" width="37.54" height="10.97" fill="#ff9e00"/>
<rect x="670.60" y="318.50" width="12.71" height="10.97" fill="#ffc600"/>
<rect x="683.01" y="318.50" width="12.71" height="10.97" fill="#ffb000"/>
<rect x="695.42" y="318.50" width="12.71" height="10.97" fill="#ffc600"/>
<rect x="707.84" y="318.50" width="12.71" height="10.97" fill="#ffb000"/>
<rect x="720.25" y="318.50" width="12.71" height="10.97" fill="#fff200"/>
<rect x="732.66" y="318.50" width="25.13" height="10.97" fill="#ffc600"/>
<rect x="111.96" y="329.17" width="12.71" height="10.97" fill="#ffc600"/>
<rect x="124.38" y="329.17" width="12.71" height="10.97" fill="#ffb000"/>
<rect x="136.79" y="329.17" width="25.13" height="10.97" fill="#ffc600"/>
<rect x="161.62" y="329.17" width="49.96" height="10.97" fill="#ffb000"/>
<rect x="211.28" y="329.17" width="12.71" height="10.97" fill="#ff9e00"/>
<rect x="223.69" y="329.17" width="12.71" height="10.97" fill="#ff8d00"/>
<rect x="236.10" y="329.17" width="37.54" height="10.97" fill="#ff7e00"/>
<rect x="273.35" y="329.17" width="12.71" height="10.97" fill="#ff6c00"/>
<rect x="285.76" y="329.17" width="12.71" height="10.97" fill="#fc4a00"/>
<rect x="298.18" y="329.17" width="12.71" height="10.97" fill="#f01e00"/>
<rect x="310.59" y="329.17" width="37.54" height="10.97" fill="#fc4a00"/>
<rect x="347.83" y="329.17" width="49.96" height="10.97" fill="#f01e00"/>
<rect x="397.49" y="329.17" width="12.71" height="10.97" fill="#de0c00"/>
<rect x="409.90" y="329.17" width="12.71" height="10.97" fill="#c80500"/>
<rect x="422.31" y="329.17" width="25.13" height="10.97" fill="#af0000"/>
<rect x="447.14" y="329.17" width="12.71" height="10.97" fill="#c80500"/>
<rect x="459.56" y="329.17" width="25.13" height="10.97" fill="#de0c00"/>
<rect x="484.38" y="329.17" width="25.13" height="10.97" fill="#f01e00"/>
<rect x="509.21" y="329.17" width="37.54" height="10.97" fill="#fc4a00"/>
<rect x="546.45" y="329.17" width="12.71" height="10.97" fill="#ff6c00"/>
<rect x="558.87" y="329.17" width="12.71" height="10.97" fill="#ff7e00"/>
<rect x="571.28" y="329.17" width="12.71" height="10.97" fill="#ff6c00"/>
<rect x="583.70" y="329.17" width="25.13" height="10.97" fill="#ff7e00"/>
<rect x="608.52" y="329.17" width="25.13" height="10.97" fill="#ff8d00"/>
<rect x="633.35" y="329.17" width="49.96" height="10.97" fill="#ff9e00"/>
<rect x="683.01" y="329.17" width="37.54" height="10.97" fill="#ffb000"/>
<rect x="720.25" y="329.17" width="12.71" height="10.97" fill="#ffc600"/>
<rect x="732.66" y="329.17" width="25.13" height="10.97" fill="#ffb000"/>
<rect x="111.96" y="339.85" width="12.71" height="10.97" fill="#fff200"/>
<rect x="124.38" y="339.85" width="12.71" height="10.97" fill="#ffc600"/>
<rect x="136.79" y="339.85" width="37.54" height="10.97" fill="#ffb000"/>
<rect x="174.03" y="339.85" width="25.13" height="10.97" fill="#ffc600"/>
<rect x="198.86" y="339.85" width="25.13" height="10.97" fill="#ff9e00"/>
<rect x="223.69" y="339.85" width="12.71" height="10.97" fill="#ff8d00"/>
<rect x="236.10" y="339.85" width="25.13" height="10.97" fill="#ff7e00"/>
<rect x="260.93" y="339.85" width="25.13" height="10.97" fill="#ff6c00"/>
<rect x="285.76" y="339.85" width="87.20" height="10.97" fill="#fc4a00"/>
<rect x="372.66" y="339.85" width="37.54" height="10.97" fill="#f01e00"/>
<rect x="409.90" y="339.85" width="25.13" height="10.97" fill="#de0c00"/>
<rect x="434.73" y="339.85" width="25.13" height="10.97" fill="#c80500"/>
<rect x="459.56" y="339.85" width="12.71" height="10.97" fill="#de0c00"/>
<rect x="471.97" y="339.85" width="25.13" height="10.97" fill="#f01e00"/>
<rect x="496.80" y="339.85" width="25.13" height="10.97" fill="#fc4a00"/>
<rect x="521.63" y="339.85" width="49.96" height="10.97" fill="#ff6c00"/>
<rect x="571.28" y="339.85" width="37.54" height="10.97" fill="#ff7e00"/>
<rect x="608.52" y="339.85" width="25.13" height="10.97" fill="#ff8d00"/>
<rect x="633.35" y="339.85" width="49.96" height="10.97" fill="#ff9e00"/>
<rect x="683.01" y="339.85" width="25.13" height="10.97" fill="#ffb000"/>
<rect x="707.84" y="339.85" width="25.13" height="10.97" fill="#ffc600"/>
<rect x="732.66" y="339.85" width="12.71" height="10.97" fill="#ffb000"/>
<rect x="745.08" y="339.85" width="12.71" height="10.97" fill="#fff200"/>
<rect x="124.38" y="350.51" width="62.37" height="10.97" fill="#ffb000"/>
<rect x="186.45" y="350.51" width="12.71" height="10.97" fill="#ffc600"/>
<rect x="198.86" y="350.51" width="12.71" height="10.97" fill="#ff9e00"/>
<rect x="211.28" y="350.51" width="12.71" height="10.97" fill="#ffb000"/>
<rect x="223.69" y="350.51" width="37.54" height="10.97" fill="#ff7e00"/>
<rect x="260.93" y="350.51" width="12.71" height="10.97" fill="#ff6c00"/>
<rect x="273.35" y="350.51" width="12.71" height="10.97" fill="#ff7e00"/>
<rect x="285.76" y="350.51" width="62.37" height="10.97" fill="#ff6c00"/>
<rect x="347.83" y="350.51" width="49.96" height="10.97" fill="#fc4a00"/>
<rect x="397.49" y="350.51" width="37.54" height="10.97" fill="#f01e00"/>
<rect x="434.73" y="350.51" width="12.71" height="10.97" fill="#de0c00"/>
<rect x="447.14" y="350.51" width="12.71" height="10.97" fill="#c80500"/>
<rect x="459.56" y="350.51" width="12.71" height="10.97" fill="#de0c00"/>
<rect x="471.97" y="350.51" width="25.13" height="10.97" fill="#f01e00"/>
<rect x="496.80" y="350.51" width="37.54" height="10.97" fill="#fc4a00"/>
<rect x="534.04" y="350.51" width="12.71" height="10.97" fill="#ff6c00"/>
<rect x="546.45" y="350.51" width="12.71" height="10.97" fill="#ff7e00"/>
<rect x="558.87" y="350.51" width="12.71" height="10.97" fill="#ff6c00"/>
<rect x="571.28" y="350.51" width="37.54" height="10.97" fill="#ff7e00"/>
<rect x="608.52" y="350.51" width="12.71" height="10.97" fill="#ff8d00"/>
<rect x="620.94" y="350.51" width="37.54" height="10.97" fill="#ff9e00"/>
<rect x="658.18" y="350.51" width="49.96" height="10.97" fill="#ffb000"/>
<rect x="707.84" y="350.51" width="12.71" height="10.97" fill="#ffc600"/>
<rect x="720.25" y="350.51" width="12.71" height="10.97" fill="#ffda00"/>
<rect x="732.66" y="350.51" width="12.71" height="10.97" fill="#ffc600"/>
<rect x="124.38" y="361.18" width="12.71" height="10.97" fill="#ffb000"/>
<rect x="136.79" y="361.18" width="12.71" height="10.97" fill="#ffc600"/>
<rect x="149.21" y="361.18" width="37.54" height="10.97" fill="#ffb000"/>
<rect x="186.45" y="361.18" width="12.71" height="10.97" fill="#ff9e00"/>
<rect x="198.86" y="361.18" width="12.71" height="10.97" fill="#ffb000"/>
<rect x="211.28" y="361.18" width="37.54" height="10.97" fill="#ff9e00"/>
<rect x="248.52" y="361.18" width="49.96" height="10.97" fill="#ff7e00"/>
<rect x="298.18" y="361.18" width="87.20" height="10.97" fill="#ff6c00"/>
<rect x="385.07" y="361.18" width="25.13" height="10.97" fill="#fc4a00"/>
<rect x="409.90" y="361.18" width="25.13" height="10.97" fill="#f01e00"/>
<rect x="434.73" y="361.18" width="12.71" height="10.97" fill="#de0c00"/>
<rect x="447.14" y="361.18" width="25.13" height="10.97" fill="#c80500"/>
<rect x="471.97" y="361.18" width="25.13" height="10.97" fill="#f01e00"/>
<rect x="496.80" y="361.18" width="25.13" height="10.97" fill="#fc4a00"/>
<rect x="521.63" y="361.18" width="37.54" height="10.97" fill="#ff6c00"/>
<rect x="558.87" y="361.18" width="49.96" height="10.97" fill="#ff7e00"/>
<rect x="608.52" y="361.18" width="25.13" height="10.97" fill="#ff8d00"/>
<rect x="633.35" y="361.18" width="25.13" height="10.97" fill="#ff9e00"/>
<rect x="658.18" y="361.18" width="12.71" height="10.97" fill="#ffb000"/>
<rect x="670.60" y="361.18" width="12.71" height="10.97" fill="#ff9e00"/>
<rect x="683.01" y="361.18" width="12.71" height="10.97" fill="#ffc600"/>
<rect x="695.42" y="361.18" width="12.71" height="10.97" fill="#ffb000"/>
<rect x="707.84" y="361.18" width="25.13" height="10.97" fill="#ffc600"/>
<rect x="732.66" y="361.18" width="12.71" height="10.97" fill="#fff200"/>
<rect x="124.38" y="371.86" width="12.71" height="10.97" fill="#ffda00"/>
<rect x="136.79" y="371.86" width="74.78" height="10.97" fill="#ffb000"/>
<rect x="211.28" y="371.86" width="25.13" height="10.97" fill="#ff9e00"/>
<rect x="236.10" y="371.86" width="62.37" height="10.97" fill="#ff7e00"/>
<rect x="298.18" y="371.86" width="12.71" height="10.97" fill="#ff6c00"/>
<rect x="310.59" y="371.86" width="25.13" height="10.97" fill="#ff7e00"/>
<rect x="335.42" y="371.86" width="37.54" height="10.97" fill="#ff6c00"/>
<rect x="372.66" y="371.86" width="62.37" height="10.97" fill="#fc4a00"/>
<rect x="434.73" y="371.86" width="12.71" height="10.97" fill="#f01e00"/>
<rect x="447.14" y="371.86" width="12.71" height="10.97" fill="#de0c00"/>
<rect x="459.56" y="371.86" width="25.13" height="10.97" fill="#c80500"/>
<rect x="484.38" y="371.86" width="12.71" height="10.97" fill="#f01e00"/>
<rect x="496.80" y="371.86" width="25.13" height="10.97" fill="#fc4a00"/>
<rect x="521.63" y="371.86" width="37.54" height="10.97" fill="#ff6c00"/>
<rect x="558.87" y="371.86" width="49.96" height="10.97" fill="#ff7e00"/>
<rect x="608.52" y="371.86" width="25.13" height="10.97" fill="#ff8d00"/>
<rect x="633.35" y="371.86" width="74.78" height="10.97" fill="#ffb000"/>
<rect x="707.84" y="371.86" width="12.71" height="10.97" fill="#ffda00"/>
<rect x="720.25" y="371.86" width="12.71" height="10.97" fill="#ffc600"/>
<rect x="136.79" y="382.52" width="37.54" height="10.97" fill="#ffc600"/>
<rect x="174.03" y="382.52" width="49.96" height="10.97" fill="#ffb000"/>
<rect x="223.69" y="382.52" width="12.71" height="10.97" fill="#ff9e00"/>
<rect x="236.10" y="382.52" width="12.71" height="10.97" fill="#ffb000"/>
<rect x="248.52" y="382.52" width="12.71" height="10.97" fill="#ff9e00"/>
<rect x="260.93" y="382.52" width="25.13" height="10.97" fill="#ff8d00"/>
<rect x="285.76" y="382.52" width="37.54" height="10.97" fill="#ff7e00"/>
<rect x="323.00" y="382.52" width="74.78" height="10.97" fill="#ff6c00"/>
<rect x="397.49" y="382.52" width="37.54" height="10.97" fill="#fc4a00"/>
<rect x="434.73" y="382.52" width="25.13" height="10.97" fill="#f01e00"/>
<rect x="459.56" y="382.52" width="25.13" height="10.97" fill="#c80500"/>
<rect x="484.38" y="382.52" width="12.71" height="10.97" fill="#de0c00"/>
<rect x="496.80" y="382.52" width="12.71" height="10.97" fill="#f01e00"/>
<rect x="509.21" y="382.52" width="25.13" height="10.97" fill="#fc4a00"/>
<rect x="534.04" y="382.52" width="12.71" height="10.97" fill="#ff6c00"/>
<rect x="546.45" y="382.52" width="62.37" height="10.97" fill="#ff7e00"/>
<rect x="608.52" y="382.52" width="12.71" height="10.97" fill="#ff8d00"/>
<rect x="620.94" y="382.52" width="25.13" height="10.97" fill="#ff9e00"/>
<rect x="645.77" y="382.52" width="37.54" height="10.97" fill="#ffb000"/>
<rect x="683.01" y="382.52" width="12.71" height="10.97" fill="#ffc600"/>
<rect x="695.42" y="382.52" width="25.13" height="10.97" fill="#ffb000"/>
<rect x="720.25" y="382.52" width="12.71" height="10.97" fill="#ffc600"/>
<rect x="136.79" y="393.19" width="25.13" height="10.97" fill="#ffc600"/>
<rect x="161.62" y="393.19" width="49.96" height="10.97" fill="#ffb000"/>
<rect x="211.28" y="393.19" width="49.96" height="10.97" fill="#ff9e00"/>
<rect x="260.93" y="393.19" width="25.13" height="10.97" fill="#ff8d00"/>
<rect x="285.76" y="393.19" width="62.37" height="10.97" fill="#ff7e00"/>
<rect x="347.83" y="393.19" width="25.13" height="10.97" fill="#ff6c00"/>
<rect x="372.66" y="393.19" width="12.71" height="10.97" fill="#ff7e00"/>
<rect x="385.07" y="393.19" width="12.71" height="10.97" fill="#ff6c00"/>
<rect x="397.49" y="393.19" width="49.96" height="10.97" fill="#fc4a00"/>
<rect x="447.14" y="393.19" width="12.71" height="10.97" fill="#f01e00"/>
<rect x="459.56" y="393.19" width="12.71" height="10.97" fill="#de0c00"/>
<rect x="471.97" y="393.19" width="25.13" height="10.97" fill="#c80500"/>
<rect x="496.80" y="393.19" width="12.71" height="10.97" fill="#de0c00"/>
<rect x="509.21" y="393.19" width="25.13" height="10.97" fill="#fc4a00"/>
<rect x="534.04" y="393.19" width="25.13" height="10.97" fill="#ff6c00"/>
<rect x="558.87" y="393.19" width="37.54" height="10.97" fill="#ff7e00"/>
<rect x="596.11" y="393.19" width="12.71" height="10.97" fill="#ff8d00"/>
<rect x="608.52" y="393.19" width="62.37" height="10.97" fill="#ff9e00"/>
<rect x="670.60" y="393.19" width="37.54" height="10.97" fill="#ffb000"/>
<rect x="707.84" y="393.19" width="12.71" height="10.97" fill="#ffc600"/>
<rect x="149.21" y="403.87" width="37.54" height="10.97" fill="#ffc600"/>
<rect x="186.45" y="403.87" width="12.71" height="10.97" fill="#ffb000"/>
<rect x="198.86" y="403.87" width="12.71" height="10.97" fill="#ffc600"/>
<rect x="211.28" y="403.87" width="12.71" height="10.97" fill="#ffb000"/>
<rect x="223.69" y="403.87" width="12.71" height="10.97" fill="#ff9e00"/>
<rect x="236.10" y="403.87" width="25.13" height="10.97" fill="#ffb000"/>
<rect x="260.93" y="403.87" width="12.71" height="10.97" fill="#ffc600"/>
<rect x="273.35" y="403.87" width="25.13" height="10.97" fill="#ff8d00"/>
<rect x="298.18" y="403.87" width="62.37" height="10.97" fill="#ff7e00"/>
<rect x="360.25" y="403.87" width="12.71" height="10.97" fill="#ff6c00"/>
<rect x="372.66" y="403.87" width="12.71" height="10.97" fill="#ff7e00"/>
<rect x="385.07" y="403.87" width="12.71" height="10.97" fill="#ff6c00"/>
<rect x="397.49" y="403.87" width="12.71" height="10.97" fill="#ff7e00"/>
<rect x="409.90" y="403.87" width="49.96" height="10.97" fill="#ff6c00"/>
<rect x="459.56" y="403.87" width="12.71" height="10.97" fill="#f01e00"/>
<rect x="471.97" y="403.87" width="25.13" height="10.97" fill="#c80500"/>
<rect x="496.80" y="403.87" width="12.71" height="10.97" fill="#de0c00"/>
<rect x="509.21" y="403.87" width="12.71" height="10.97" fill="#f01e00"/>
<rect x="521.63" y="403.87" width="12.71" height="10.97" fill="#fc4a00"/>
<rect x="534.04" y="403.87" width="25.13" height="10.97" fill="#ff6c00"/>
<rect x="558.87" y="403.87" width="37.54" height="10.97" fill="#ff7e00"/>
<rect x="596.11" y="403.87" width="12.71" height="10.97" fill="#ff8d00"/>
<rect x="608.52" y="403.87" width="12.71" height="10.97" fill="#ff9e00"/>
<rect x="620.94" y="403.87" width="12.71" height="10.97" fill="#ffb000"/>
<rect x="633.35" y="403.87" width="37.54" height="10.97" fill="#ff9e00"/>
<rect x="670.60" y="403.87" width="12.71" height="10.97" fill="#ffb000"/>
<rect x="683.01" y="403.87" width="12.71" height="10.97" fill="#ffc600"/>
<rect x="695.42" y="403.87" width="12.71" height="10.97" fill="#ffda00"/>
<rect x="161.62" y="414.53" width="37.54" height="10.97" fill="#ffc600"/>
<rect x="198.86" y="414.53" width="62.37" height="10.97" fill="#ffb000"/>
<rect x="260.93" y="414.53" width="12.71" height="10.97" fill="#ff9e00"/>
<rect x="273.35" y="414.53" width="62.37" height="10.97" fill="#ff8d00"/>
<rect x="335.42" y="414.53" width="12.71" height="10.97" fill="#ff7e00"/>
<rect x="347.83" y="414.53" width="12.71" height="10.97" fill="#ff8d00"/>
<rect x="360.25" y="414.53" width="74.78" height="10.97" fill="#ff7e00"/>
<rect x="434.73" y="414.53" width="25.13" height="10.97" fill="#ff6c00"/>
<rect x="459.56" y="414.53" width="25.13" height="10.97" fill="#f01e00"/>
<rect x="484.38" y="414.53" width="12.71" height="10.97" fill="#de0c00"/>
<rect x="496.80" y="414.53" width="12.71" height="10.97" fill="#c80500"/>
<rect x="509.21" y="414.53" width="12.71" height="10.97" fill="#de0c00"/>
<rect x="521.63" y="414.53" width="25.13" height="10.97" fill="#fc4a00"/>
<rect x="546.45" y="414.53" width="12.71" height="10.97" fill="#ff6c00"/>
<rect x="558.87" y="414.53" width="37.54" height="10.97" fill="#ff7e00"/>
<rect x="596.11" y="414.53" width="12.71" height="10.97" fill="#ff8d00"/>
<rect x="608.52" y="414.53" width="37.54" height="10.97" fill="#ff9e00"/>
<rect x="645.77" y="414.53" width="12.71" height="10.97" fill="#ffb000"/>
<rect x="658.18" y="414.53" width="12.71" height="10.97" fill="#ff9e00"/>
<rect x="670.60" y="414.53" width="12.71" height="10.97" fill="#ffc600"/>
<rect x="683.01" y="414.53" width="12.71" height="10.97" fill="#ffb000"/>
<rect x="695.42" y="414.53" width="12.71" height="10.97" fill="#fff200"/>
<rect x="174.03" y="425.21" width="37.54" height="10.97" fill="#ffc600"/>
<rect x="211.28" y="425.21" width="74.78" height="10.97" fill="#ffb000"/>
<rect x="285.76" y="425.21" width="62.37" height="10.97" fill="#ff9e00"/>
<rect x="347.83" y="425.21" width="62.37" height="10.97" fill="#ff8d00"/>
<rect x="409.90" y="425.21" width="12.71" height="10.97" fill="#ff7e00"/>
<rect x="422.31" y="425.21" width="12.71" height="10.97" fill="#ff6c00"/>
<rect x="434.73" y="425.21" width="12.71" height="10.97" fill="#ff7e00"/>
<rect x="447.14" y="425.21" width="12.71" height="10.97" fill="#ff6c00"/>
<rect x="459.56" y="425.21" width="25.13" height="10.97" fill="#fc4a00"/>
<rect x="484.38" y="425.21" width="12.71" height="10.97" fill="#f01e00"/>
<rect x="496.80" y="425.21" width="12.71" height="10.97" fill="#de0c00"/>
<rect x="509.21" y="425.21" width="12.71" height="10.97" fill="#c80500"/>
<rect x="521.63" y="425.21" width="12.71" height="10.97" fill="#de0c00"/>
<rect x="534.04" y="425.21" width="12.71" height="10.97" fill="#fc4a00"/>
<rect x="546.45" y="425.21" width="37.54" height="10.97" fill="#ff6c00"/>
<rect x="583.70" y="425.21" width="25.13" height="10.97" fill="#ff7e00"/>
<rect x="608.52" y="425.21" width="12.71" height="10.97" fill="#ff8d00"/>
<rect x="620.94" y="425.21" width="12.71" height="10.97" fill="#ff9e00"/>
<rect x="633.35" y="425.21" width="12.71" height="10.97" fill="#ffb000"/>
<rect x="645.77" y="425.21" width="12.71" height="10.97" fill="#ff9e00"/>
<rect x="658.18" y="425.21" width="25.13" height="10.97" fill="#ffb000"/>
<rect x="683.01" y="425.21" width="12.71" height="10.97" fill="#ffc600"/>
<rect x="186.45" y="435.88" width="12.71" height="10.97" fill="#ffda00"/>
<rect x="198.86" y="435.88" width="12.71" height="10.97" fill="#ffc600"/>
<rect x="211.28" y="435.88" width="12.71" height="10.97" fill="#ffb000"/>
<rect x="223.69" y="435.88" width="37.54" height="10.97" fill="#ffc600"/>
<rect x="260.93" y="435.88" width="25.13" height="10.97" fill="#ffb000"/>
<rect x="285.76" y="435.88" width="12.71" height="10.97" fill="#ff9e00"/>
<rect x="298.18" y="435.88" width="12.71" height="10.97" fill="#ffb000"/>
<rect x="310.59" y="435.88" width="12.71" height="10.97" fill="#ff9e00"/>
<rect x="323.00" y="435.88" width="12.71" height="10.97" fill="#ffb000"/>
<rect x="335.42" y="435.88" width="12.71" height="10.97" fill="#ff9e00"/>
<rect x="347.83" y="435.88" width="12.71" height="10.97" fill="#ff8d00"/>
<rect x="360.25" y="435.88" width="49.96" height="10.97" fill="#ff9e00"/>
<rect x="409.90" y="435.88" width="37.54" height="10.97" fill="#ff7e00"/>
<rect x="447.14" y="435.88" width="37.54" height="10.97" fill="#ff6c00"/>
<rect x="484.38" y="435.88" width="12.71" height="10.97" fill="#fc4a00"/>
<rect x="496.80" y="435.88" width="12.71" height="10.97" fill="#de0c00"/>
<rect x="509.21" y="435.88" width="25.13" height="10.97" fill="#c80500"/>
<rect x="534.04" y="435.88" width="12.71" height="10.97" fill="#de0c00"/>
<rect x="546.45" y="435.88" width="12.71" height="10.97" fill="#fc4a00"/>
<rect x="558.87" y="435.88" width="25.13" height="10.97" fill="#ff6c00"/>
<rect x="583.70" y="435.88" width="25.13" height="10.97" fill="#ff7e00"/>
<rect x="608.52" y="435.88" width="12.71" height="10.97" fill="#ff9e00"/>
<rect x="620.94" y="435.88" width="12.71" height="10.97" fill="#ffb000"/>
<rect x="633.35" y="435.88" width="12.71" height="10.97" fill="#ff9e00"/>
<rect x="645.77" y="435.88" width="12.71" height="10.97" fill="#ffb000"/>
<rect x="658.18" y="435.88" width="12.71" height="10.97" fill="#ff9e00"/>
<rect x="670.60" y="435.88" width="12.71" height="10.97" fill="#ffda00"/>
<rect x="198.86" y="446.54" width="25.13" height="10.97" fill="#ffc600"/>
<rect x="223.69" y="446.54" width="12.71" height="10.97" fill="#ffb000"/>
<rect x="236.10" y="446.54" width="12.71" height="10.97" fill="#ffc600"/>
<rect x="248.52" y="446.54" width="62.37" height="10.97" fill="#ffb000"/>
<rect x="310.59" y="446.54" width="12.71" height="10.97" fill="#ff9e00"/>
<rect x="323.00" y="446.54" width="12.71" height="10.97" fill="#ffb000"/>
<rect x="335.42" y="446.54" width="49.96" height="10.97" fill="#ff9e00"/>
<rect x="385.07" y="446.54" width="12.71" height="10.97" fill="#ff7e00"/>
<rect x="397.49" y="446.54" width="12.71" height="10.97" fill="#ff9e00"/>
<rect x="409.90" y="446.54" width="62.37" height="10.97" fill="#ff7e00"/>
<rect x="471.97" y="446.54" width="12.71" height="10.97" fill="#ff6c00"/>
<rect x="484.38" y="446.54" width="25.13" height="10.97" fill="#fc4a00"/>
<rect x="509.21" y="446.54" width="12.71" height="10.97" fill="#de0c00"/>
<rect x="521.63" y="446.54" width="25.13" height="10.97" fill="#c80500"/>
<rect x="546.45" y="446.54" width="12.71" height="10.97" fill="#f01e00"/>
<rect x="558.87" y="446.54" width="12.71" height="10.97" fill="#fc4a00"/>
<rect x="571.28" y="446.54" width="12.71" height="10.97" fill="#ff6c00"/>
<rect x="583.70" y="446.54" width="25.13" height="10.97" fill="#ff7e00"/>
<rect x="608.52" y="446.54" width="37.54" height="10.97" fill="#ff9e00"/>
<rect x="645.77" y="446.54" width="12.71" height="10.97" fill="#ffb000"/>
<rect x="211.28" y="457.22" width="25.13" height="10.97" fill="#ffc600"/>
<rect x="236.10" y="457.22" width="12.71" height="10.97" fill="#ffb000"/>
<rect x="248.52" y="457.22" width="37.54" height="10.97" fill="#ffc600"/>
<rect x="285.76" y="457.22" width="49.96" height="10.97" fill="#ffb000"/>
<rect x="335.42" y="457.22" width="12.71" height="10.97" fill="#ff9e00"/>
<rect x="347.83" y="457.22" width="12.71" height="10.97" fill="#ffb000"/>
<rect x="360.25" y="457.22" width="12.71" height="10.97" fill="#ff9e00"/>
<rect x="372.66" y="457.22" width="12.71" height="10.97" fill="#ffb000"/>
<rect x="385.07" y="457.22" width="37.54" height="10.97" fill="#ff9e00"/>
<rect x="422.31" y="457.22" width="62.37" height="10.97" fill="#ff7e00"/>
<rect x="484.38" y="457.22" width="25.13" height="10.97" fill="#ff6c00"/>
<rect x="509.21" y="457.22" width="12.71" height="10.97" fill="#fc4a00"/>
<rect x="521.63" y="457.22" width="12.71" height="10.97" fill="#de0c00"/>
<rect x="534.04" y="457.22" width="25.13" height="10.97" fill="#c80500"/>
<rect x="558.87" y="457.22" width="12.71" height="10.97" fill="#f01e00"/>
<rect x="571.28" y="457.22" width="12.71" height="10.97" fill="#fc4a00"/>
<rect x="583.70" y="457.22" width="12.71" height="10.97" fill="#ff6c00"/>
<rect x="596.11" y="457.22" width="12.71" height="10.97" fill="#ff7e00"/>
<rect x="608.52" y="457.22" width="12.71" height="10.97" fill="#ff8d00"/>
<rect x="620.94" y="457.22" width="12.71" height="10.97" fill="#ff9e00"/>
<rect x="633.35" y="457.22" width="12.71" height="10.97" fill="#ffb000"/>
<rect x="236.10" y="467.88" width="12.71" height="10.97" fill="#ffda00"/>
<rect x="248.52" y="467.88" width="12.71" height="10.97" fill="#ffc600"/>
<rect x="260.93" y="467.88" width="12.71" height="10.97" fill="#ffb000"/>
<rect x="273.35" y="467.88" width="12.71" height="10.97" fill="#ffc600"/>
<rect x="285.76" y="467.88" width="12.71" height="10.97" fill="#ffb000"/>
<rect x="298.18" y="467.88" width="12.71" height="10.97" fill="#ffc600"/>
<rect x="310.59" y="467.88" width="12.71" height="10.97" fill="#ff9e00"/>
<rect x="323.00" y="467.88" width="49.96" height="10.97" fill="#ffb000"/>
<rect x="372.66" y="467.88" width="12.71" height="10.97" fill="#ff9e00"/>
<rect x="385.07" y="467.88" width="12.71" height="10.97" fill="#ffb000"/>
<rect x="397.49" y="467.88" width="62.37" height="10.97" fill="#ff9e00"/>
<rect x="459.56" y="467.88" width="37.54" height="10.97" fill="#ff7e00"/>
<rect x="496.80" y="467.88" width="25.13" height="10.97" fill="#ff6c00"/>
<rect x="521.63" y="467.88" width="12.71" height="10.97" fill="#fc4a00"/>
<rect x="534.04" y="467.88" width="12.71" height="10.97" fill="#de0c00"/>
<rect x="546.45" y="467.88" width="12.71" height="10.97" fill="#c80500"/>
<rect x="558.87" y="467.88" width="12.71" height="10.97" fill="#de0c00"/>
<rect x="571.28" y="467.88" width="12.71" height="10.97" fill="#fc4a00"/>
<rect x="583.70" y="467.88" width="25.13" height="10.97" fill="#ff6c00"/>
<rect x="608.52" y="467.88" width="12.71" height="10.97" fill="#ff8d00"/>
<rect x="620.94" y="467.88" width="12.71" height="10.97" fill="#ff9e00"/>
<rect x="260.93" y="478.55" width="12.71" height="10.97" fill="#ffb000"/>
<rect x="273.35" y="478.55" width="37.54" height="10.97" fill="#ffc600"/>
<rect x="310.59" y="478.55" width="12.71" height="10.97" fill="#ffb000"/>
<rect x="323.00" y="478.55" width="12.71" height="10.97" fill="#ffc600"/>
<rect x="335.42" y="478.55" width="49.96" height="10.97" fill="#ffb000"/>
<rect x="385.07" y="478.55" width="62.37" height="10.97" fill="#ff9e00"/>
<rect x="447.14" y="478.55" width="74.78" height="10.97" fill="#ff7e00"/>
<rect x="521.63" y="478.55" width="25.13" height="10.97" fill="#fc4a00"/>
<rect x="546.45" y="478.55" width="12.71" height="10.97" fill="#de0c00"/>
<rect x="558.87" y="478.55" width="12.71" height="10.97" fill="#c80500"/>
<rect x="571.28" y="478.55" width="12.71" height="10.97" fill="#f01e00"/>
<rect x="583.70" y="478.55" width="12.71" height="10.97" fill="#fc4a00"/>
<rect x="596.11" y="478.55" width="12.71" height="10.97" fill="#ff6c00"/>
<rect x="285.76" y="489.23" width="37.54" height="10.97" fill="#ffc600"/>
<rect x="323.00" y="489.23" width="74.78" height="10.97" fill="#ffb000"/>
<rect x="397.49" y="489.23" width="49.96" height="10.97" fill="#ff9e00"/>
<rect x="447.14" y="489.23" width="12.71" height="10.97" fill="#ffb000"/>
<rect x="459.56" y="489.23" width="37.54" height="10.97" fill="#ff9e00"/>
<rect x="496.80" y="489.23" width="25.13" height="10.97" fill="#ff7e00"/>
<rect x="521.63" y="489.23" width="25.13" height="10.97" fill="#ff6c00"/>
<rect x="546.45" y="489.23" width="12.71" height="10.97" fill="#fc4a00"/>
<rect x="558.87" y="489.23" width="25.13" height="10.97" fill="#de0c00"/>
<rect x="310.59" y="499.89" width="12.71" height="10.97" fill="#fff200"/>
<rect x="323.00" y="499.89" width="12.71" height="10.97" fill="#ffb000"/>
<rect x="335.42" y="499.89" width="12.71" height="10.97" fill="#ffda00"/>
<rect x="347.83" y="499.89" width="12.71" height="10.97" fill="#ffb000"/>
<rect x="360.25" y="499.89" width="12.71" height="10.97" fill="#ffc600"/>
<rect x="372.66" y="499.89" width="12.71" height="10.97" fill="#ffb000"/>
<rect x="385.07" y="499.89" width="12.71" height="10.97" fill="#ffc600"/>
<rect x="397.49" y="499.89" width="12.71" height="10.97" fill="#ffb000"/>
<rect x="409.90" y="499.89" width="12.71" height="10.97" fill="#ffc600"/>
<rect x="422.31" y="499.89" width="37.54" height="10.97" fill="#ff9e00"/>
<rect x="459.56" y="499.89" width="12.71" height="10.97" fill="#ffb000"/>
<rect x="471.97" y="499.89" width="49.96" height="10.97" fill="#ff9e00"/>
<rect x="521.63" y="499.89" width="25.13" height="10.97" fill="#ff7e00"/>
<rect x="360.25" y="510.56" width="25.13" height="10.97" fill="#ffda00"/>
<rect x="385.07" y="510.56" width="12.71" height="10.97" fill="#ffc600"/>
<rect x="397.49" y="510.56" width="12.71" height="10.97" fill="#ffb000"/>
<rect x="409.90" y="510.56" width="12.71" height="10.97" fill="#ffc600"/>
<rect x="422.31" y="510.56" width="49.96" height="10.97" fill="#ffb000"/>
<rect x="471.97" y="510.56" width="12.71" height="10.97" fill="#ffc600"/>
<rect x="484.38" y="510.56" width="12.71" height="10.97" fill="#ffb000"/>
</g>
<g fill="none" stroke="#808080" stroke-width="2.2" stroke-linecap="butt" stroke-linejoin="round">
<polyline points="204,41.5 344,140 384.8,169.2"/>
<polyline points="344,140 483,411.6"/>
<polyline points="482.6,395.4 492.3,419.2 597.2,520.8"/>
<polyline points="419.3,231.7 295.4,340.1"/>
<polyline points="269.7,337.2 327,351.2 413.2,408.6 449.8,446.4"/>
<polyline points="99.5,196.7 144.7,219.4"/>
<polyline points="99.5,255.5 104.2,258.7 125.8,279.2 158,297 169.1,302.4 199.4,338.4 393.5,417.3"/>
<polyline points="99.5,443.4 144.2,454.2 202.2,473.9"/>
<polyline points="277.3,500.7 293.6,521.3"/>
</g>
<g fill="none" stroke="#808080" stroke-width="1" stroke-dasharray="1.2,1.6">
<polyline points="99.5,433.7 129.9,441.6 169.7,453.3 208.7,466.4"/>
<polyline points="482.6,395.4 490.5,391 499.9,414.9 608,520"/>
</g>
<g fill="none" stroke="#808080" stroke-width="1">
<line x1="123.7" y1="447.7" x2="129.7" y2="441.9"/>
<line x1="164.1" y1="459.6" x2="170.2" y2="453.1"/>
<line x1="202.2" y1="473.9" x2="208.7" y2="465.7"/>
<line x1="492.5" y1="419" x2="501.2" y2="414.3"/>
<line x1="512.9" y1="439.7" x2="521.5" y2="435.4"/>
<line x1="534.9" y1="459.6" x2="542" y2="455.7"/>
<line x1="556.1" y1="478" x2="563" y2="475.2"/>
<line x1="576" y1="499.8" x2="584.2" y2="495.3"/>
<line x1="597.2" y1="519.1" x2="604.8" y2="515.8"/>
</g>
<line x1="735" y1="521" x2="765.5" y2="519.4" stroke="#2a2a2a" stroke-width="1.3"/>

</g>
<rect x="99.5" y="41.5" width="666.0" height="480.0" fill="none" stroke="#bcbcbc" stroke-width="1"/>
<path d="M99.5 41 V521.5 H766" fill="none" stroke="#8e8e8e" stroke-width="1.1"/>
<g font-size="20">
<text transform="translate(205.5,544.9) scale(1,0.97)" text-anchor="middle">-116</text>
<text transform="translate(360.4,544.9) scale(1,0.97)" text-anchor="middle">-115.75</text>
<text transform="translate(515.3,544.9) scale(1,0.97)" text-anchor="middle">-115.5</text>
<text transform="translate(670.2,544.9) scale(1,0.97)" text-anchor="middle">-115.25</text>
<text transform="translate(92,96.2) scale(1,0.97)" text-anchor="end">33.5</text>
<text transform="translate(92,229.8) scale(1,0.97)" text-anchor="end">33.25</text>
<text transform="translate(92,363.5) scale(1,0.97)" text-anchor="end">33</text>
<text transform="translate(92,497.1) scale(1,0.97)" text-anchor="end">32.75</text>
<text transform="translate(432.5,575) scale(1,0.97)" text-anchor="middle" font-size="22">Longitude</text>
<text transform="translate(24.5,281) rotate(-90) scale(1,0.97)" text-anchor="middle" font-size="22">Latitude</text>
</g>
<g shape-rendering="crispEdges">
<rect x="50.0" y="588.5" width="36.8" height="15" fill="#ffff00"/>
<rect x="86.5" y="588.5" width="35.3" height="15" fill="#ffe600"/>
<rect x="121.5" y="588.5" width="35.3" height="15" fill="#ffd400"/>
<rect x="156.5" y="588.5" width="35.3" height="15" fill="#ffc000"/>
<rect x="191.5" y="588.5" width="35.3" height="15" fill="#ffac00"/>
<rect x="226.5" y="588.5" width="35.3" height="15" fill="#ff9600"/>
<rect x="261.5" y="588.5" width="35.3" height="15" fill="#ff8000"/>
<rect x="296.5" y="588.5" width="35.3" height="15" fill="#ff6400"/>
<rect x="331.5" y="588.5" width="35.3" height="15" fill="#fa4400"/>
<rect x="366.5" y="588.5" width="35.3" height="15" fill="#f01c00"/>
<rect x="401.5" y="588.5" width="35.3" height="15" fill="#de0c00"/>
<rect x="436.5" y="588.5" width="35.3" height="15" fill="#c80500"/>
<rect x="471.5" y="588.5" width="35.3" height="15" fill="#af0000"/>
<rect x="506.5" y="588.5" width="35.3" height="15" fill="#960000"/>
<rect x="541.5" y="588.5" width="35.3" height="15" fill="#7a0000"/>
<rect x="576.5" y="588.5" width="35.3" height="15" fill="#640000"/>
<rect x="611.5" y="588.5" width="35.3" height="15" fill="#500000"/>
<rect x="646.5" y="588.5" width="35.3" height="15" fill="#3e0000"/>
<rect x="681.5" y="588.5" width="35.3" height="15" fill="#2d0000"/>
<rect x="716.5" y="588.5" width="34.3" height="15" fill="#000000"/>
</g>
<rect x="50" y="588.5" width="700.5" height="15" fill="none" stroke="#a8a8a8" stroke-width="0.8"/>
<g font-size="20">
<line x1="50.5" y1="603.5" x2="50.5" y2="605.5" stroke="#808080" stroke-width="1"/>
<text transform="translate(50.0,626.6) scale(1,0.97)" text-anchor="middle">-5.0</text>
<line x1="120.5" y1="603.5" x2="120.5" y2="605.5" stroke="#808080" stroke-width="1"/>
<text transform="translate(120.0,626.6) scale(1,0.97)" text-anchor="middle">-4.5</text>
<line x1="190.5" y1="603.5" x2="190.5" y2="605.5" stroke="#808080" stroke-width="1"/>
<text transform="translate(190.0,626.6) scale(1,0.97)" text-anchor="middle">-4.0</text>
<line x1="260.5" y1="603.5" x2="260.5" y2="605.5" stroke="#808080" stroke-width="1"/>
<text transform="translate(260.0,626.6) scale(1,0.97)" text-anchor="middle">-3.5</text>
<line x1="330.5" y1="603.5" x2="330.5" y2="605.5" stroke="#808080" stroke-width="1"/>
<text transform="translate(330.0,626.6) scale(1,0.97)" text-anchor="middle">-3.0</text>
<line x1="400.5" y1="603.5" x2="400.5" y2="605.5" stroke="#808080" stroke-width="1"/>
<text transform="translate(400.0,626.6) scale(1,0.97)" text-anchor="middle">-2.5</text>
<line x1="470.5" y1="603.5" x2="470.5" y2="605.5" stroke="#808080" stroke-width="1"/>
<text transform="translate(470.0,626.6) scale(1,0.97)" text-anchor="middle">-2.0</text>
<line x1="540.5" y1="603.5" x2="540.5" y2="605.5" stroke="#808080" stroke-width="1"/>
<text transform="translate(540.0,626.6) scale(1,0.97)" text-anchor="middle">-1.5</text>
<line x1="610.5" y1="603.5" x2="610.5" y2="605.5" stroke="#808080" stroke-width="1"/>
<text transform="translate(610.0,626.6) scale(1,0.97)" text-anchor="middle">-1.0</text>
<line x1="680.5" y1="603.5" x2="680.5" y2="605.5" stroke="#808080" stroke-width="1"/>
<text transform="translate(680.0,626.6) scale(1,0.97)" text-anchor="middle">-0.5</text>
<line x1="750.5" y1="603.5" x2="750.5" y2="605.5" stroke="#808080" stroke-width="1"/>
<text transform="translate(750.0,626.6) scale(1,0.97)" text-anchor="middle">0.0</text>
<text transform="translate(400.5,655) scale(1,0.97)" text-anchor="middle" font-size="22">Log10 Probability M≥3, 1 Month</text>
</g>
</svg>
</body></html>
